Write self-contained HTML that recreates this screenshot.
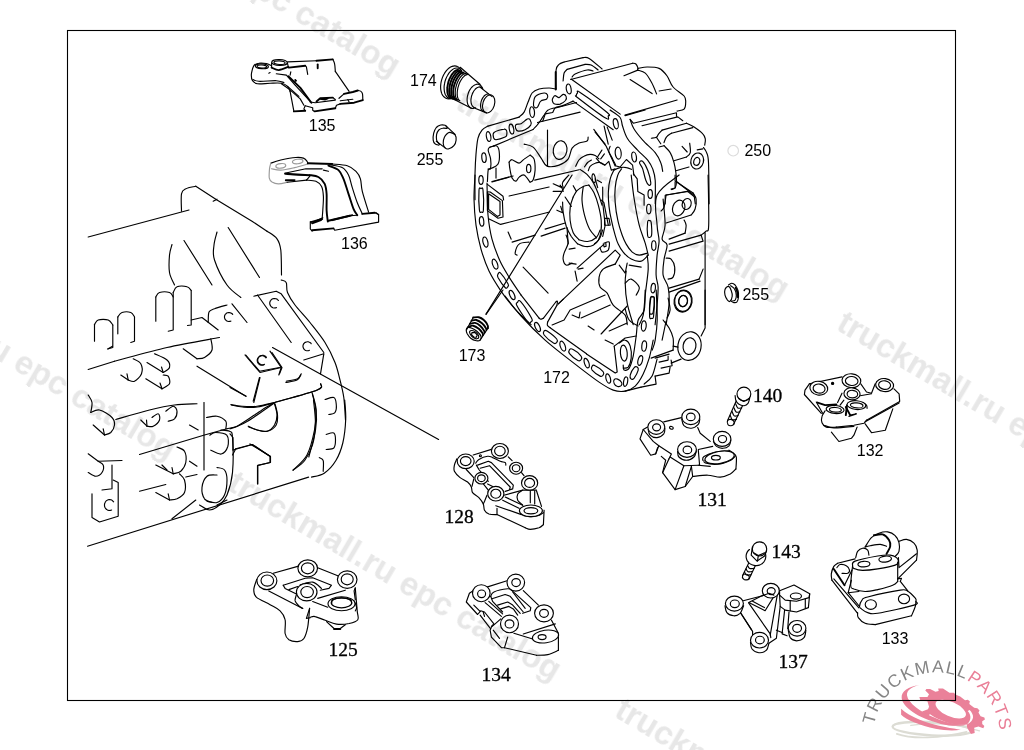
<!DOCTYPE html>
<html><head><meta charset="utf-8"><title>EPC catalog diagram</title>
<style>
html,body{margin:0;padding:0;background:#fff;}
body{width:1024px;height:750px;overflow:hidden;font-family:"Liberation Sans",sans-serif;}
svg{display:block;position:absolute;left:0;top:0;will-change:transform;filter:brightness(1);}
.k path,.k ellipse,.k circle,.k polyline,.k line,.k rect{fill:none;stroke:#000;stroke-width:1.15;vector-effect:non-scaling-stroke;stroke-linecap:round;stroke-linejoin:round;}
.k .w{fill:#fff;}
.k .b{stroke-width:1.9;}
.k .f{fill:#000;}
.k .g{stroke:#9a9a9a;}
.wm{font-family:"Liberation Sans",sans-serif;font-weight:bold;font-size:33px;fill:#e7e7e7;}
.ls{font-family:"Liberation Sans",sans-serif;font-size:16px;fill:#000;}
.lf{font-family:"Liberation Serif",serif;font-size:19.5px;fill:#000;stroke:#000;stroke-width:0.3px;}
</style></head><body>
<svg width="1024" height="750" viewBox="0 0 1024 750">
<!-- engine -->
<g class="k">
<path d="M88.2,237 L189,210"/>
<path d="M181.5,211.2 C181.5,208.3 180.8,197.5 181.5,193.8 C182.2,190 183.4,190 185.8,188.8 C188.1,187.5 194.1,186.7 195.8,186.2"/>
<path d="M195.8,186.2 L217,200 L252,221.2 L267,231.2"/>
<path d="M267,231.2 C268.7,232.5 274.7,235.6 277,238.8 C279.3,241.9 280,244 280.8,250 C281.5,256 281.4,270.8 281.5,275"/>
<path d="M213.2,201.2 L217,199.2"/>
<path d="M172,244.5 C171.6,246.2 169.9,250.3 169.5,255 C169.1,259.7 168.7,267.5 169.5,272.5 C170.3,277.5 173.7,282.9 174.5,285"/>
<path d="M184,240.5 L212,285"/>
<path d="M217,232 C216.5,234.2 214.4,240.3 214,245 C213.6,249.7 212.3,253.3 214.5,260 C216.7,266.7 222.6,278.8 227,285 C231.4,291.2 238.5,295.4 240.8,297.5"/>
<path d="M228.2,227.5 L259.5,277.5"/>
<path d="M94.5,341.2 L94.5,324.5"/>
<path d="M94.5,324.5 C95.1,323.8 96,320.8 98.2,320 C100.5,319.2 105.8,319.2 108.2,320 C110.7,320.8 112,324.2 112.8,325"/>
<path d="M112.8,325 L112.8,347.5 L107.5,349"/>
<path d="M117.8,333.8 L117.8,317"/>
<path d="M117.8,317 C118.5,316.2 119.8,313.2 122,312.5 C124.2,311.8 128.7,311.8 130.8,312.5 C132.8,313.2 133.9,316.2 134.5,317"/>
<path d="M134.5,317 L134.5,341.2 L130.8,342.5"/>
<path d="M155.8,321.2 L155.8,297"/>
<path d="M155.8,297 C156.4,296.2 157.2,293.2 159.5,292.5 C161.8,291.8 167.2,291.8 169.5,292.5 C171.8,293.2 172.6,296.2 173.2,297"/>
<path d="M173.2,292.5 L173.2,330 L168.2,331.2"/>
<path d="M173.2,292.5 C173.9,291.5 174.7,287.7 177,286.8 C179.3,285.8 184.6,286.1 187,286.8 C189.4,287.4 190.5,289.9 191.2,290.5"/>
<path d="M191.2,290.5 L191.2,325 L187.5,325.5"/>
<path d="M191.2,320 L202,317.5 L218.2,330"/>
<path d="M208.2,322.5 C208.4,320.8 208,314.3 209,312 C210,309.7 211.5,309.9 214.5,308.8 C217.5,307.6 224.9,305.6 227,305"/>
<path d="M230.9,321.1 C230.7,321.1 230.1,321.4 229.8,321.4 C229.4,321.5 229,321.5 228.6,321.5 C228.2,321.4 227.8,321.3 227.4,321.2 C227,321.1 226.7,320.9 226.3,320.6 C226,320.4 225.7,320.1 225.5,319.8 C225.2,319.5 225,319.1 224.9,318.8 C224.7,318.4 224.6,318 224.5,317.6 C224.5,317.2 224.5,316.8 224.5,316.4 C224.6,316 224.7,315.6 224.8,315.3 C225,314.9 225.2,314.5 225.5,314.2 C225.7,313.9 226,313.6 226.3,313.4 C226.6,313.2 227,313 227.4,312.8 C227.7,312.7 228.1,312.6 228.5,312.5 C228.9,312.5 229.3,312.5 229.7,312.6 C230.1,312.6 230.5,312.7 230.9,312.9 C231.2,313.1 231.6,313.3 231.9,313.5 C232.2,313.8 232.6,314.3 232.7,314.4"/>
<path d="M232,303.8 L247,322.5"/>
<path d="M114.5,361.2 C123.2,359 149.5,351.5 167,347.5 C184.5,343.5 210.8,339.2 219.5,337.5"/>
<path d="M210.8,338.8 C211,340.6 213,346.9 212,350 C211,353.1 207,356 204.5,357.5 C202,359 198.2,358.5 197,358.8"/>
<path d="M183.2,348.8 L197,358.8"/>
<path d="M88.2,369.5 L114.5,361.2"/>
<path d="M108.2,348.8 L112.5,346.2"/>
<path d="M133.2,358.8 C134.5,359.6 139.4,361.2 140.8,363.8 C142.1,366.2 142.5,370.8 141.5,373.8 C140.5,376.7 136.7,380.2 134.5,381.2 C132.3,382.3 129.3,380.2 128.2,380"/>
<path d="M120.8,375 L128.2,380"/>
<path d="M128.2,380 L127,373.8"/>
<path d="M154.5,353.8 C156.6,354.8 164.5,357.7 167,360 C169.5,362.3 170.1,365.4 169.5,367.5 C168.9,369.6 164.3,371.7 163.2,372.5"/>
<path d="M147,362.5 L163.2,372.5"/>
<path d="M163.2,372.5 L161.5,367"/>
<path d="M163.2,375 C164.1,375.2 167.2,374.8 168.2,376.2 C169.3,377.7 170.5,381.7 169.5,383.8 C168.5,385.8 163.2,387.9 162,388.8"/>
<path d="M145.8,378.8 L162,388.8"/>
<path d="M162,388.8 L160,383"/>
<path d="M197,366.2 L245.8,396.2"/>
<path d="M245.8,355 L259.5,371.2 L279.5,367.5"/>
<path d="M272,352.5 L282,367.5 L279.5,373.8"/>
<path d="M264,364.8 C263.8,364.9 263.2,365.1 262.8,365.2 C262.4,365.3 262,365.3 261.5,365.2 C261.1,365.2 260.7,365.1 260.3,364.9 C259.9,364.8 259.5,364.6 259.2,364.3 C258.9,364.1 258.5,363.8 258.3,363.5 C258,363.1 257.8,362.8 257.6,362.4 C257.5,362 257.4,361.6 257.3,361.2 C257.2,360.7 257.2,360.3 257.3,359.9 C257.3,359.5 257.5,359.1 257.6,358.7 C257.8,358.3 258,357.9 258.3,357.6 C258.5,357.3 258.8,356.9 259.2,356.7 C259.5,356.4 259.9,356.2 260.3,356.1 C260.7,355.9 261.1,355.8 261.5,355.8 C261.9,355.7 262.3,355.7 262.8,355.8 C263.2,355.9 263.6,356 264,356.2 C264.3,356.3 264.7,356.6 265,356.8 C265.4,357.1 265.7,357.6 265.9,357.8"/>
<path d="M285.8,382.5 C287.6,382.1 294.5,381.2 297,380 C299.5,378.8 300.1,375.8 300.8,375"/>
<path d="M259.5,377.5 L253.2,401.2"/>
<path d="M115.8,419.5 C121.4,417.9 139.7,412.4 149.5,410 C159.3,407.6 166.6,406 174.5,405 C182.4,404 193.2,404 197,403.8"/>
<path d="M230.8,404.5 C232.6,404.8 237.6,406 242,406.2 C246.4,406.5 251.6,406.9 257,406.2 C262.4,405.6 271.6,403.1 274.5,402.5"/>
<path d="M274.5,402.5 C281.6,400.4 309.3,393.1 317,390 C324.7,386.9 320.1,384.8 320.8,383.8"/>
<path d="M274.5,402.5 C272.4,403.8 266.6,407.1 262,410 C257.4,412.9 251.2,417.3 247,420 C242.8,422.7 240.3,424.8 237,426.2 C233.7,427.7 228.7,428.3 227,428.8"/>
<path d="M227,428.8 L204.5,435 L139.5,454.5"/>
<path d="M274.5,403.8 C274.9,405.6 277,411.5 277,415 C277,418.5 276.2,422.3 274.5,425 C272.8,427.7 269.9,430.4 267,431.2 C264.1,432.1 260.1,430.8 257,430 C253.9,429.2 249.7,426.9 248.2,426.2"/>
<path d="M312,392.5 C312.6,395.4 315.3,403.8 315.8,410 C316.2,416.2 316,422.5 314.5,430 C313,437.5 310.5,448.3 307,455 C303.5,461.7 295.5,467.5 293.2,470"/>
<path d="M204,402.5 L204,470"/>
<path d="M206.5,417.5 C208.2,417.3 213.8,415.6 217,416.2 C220.2,416.9 224.3,419.2 225.8,421.2 C227.2,423.3 225.8,427.5 225.8,428.8"/>
<path d="M189.5,425 L198.2,430"/>
<path d="M88.2,395 C88.9,396.2 91.6,399.6 92,402.5 C92.4,405.4 91,410.8 90.8,412.5"/>
<path d="M90.8,412.5 C92.2,412.1 96,409.2 99.5,410 C103,410.8 109.5,415 112,417.5 C114.5,420 114.7,422.5 114.5,425 C114.3,427.5 112.4,430.8 110.8,432.5 C109.1,434.2 105.5,434.6 104.5,435"/>
<path d="M93.2,425 L104.5,435"/>
<path d="M104.5,435 L103.2,428.8"/>
<path d="M152,417.5 C153,416.9 157,413.3 158.2,413.8 C159.5,414.2 160.3,417.9 159.5,420 C158.7,422.1 155.3,425.2 153.2,426.2 C151.2,427.3 148,426.2 147,426.2"/>
<path d="M140.8,420 L147,426.2"/>
<path d="M147,426.2 L146.5,420"/>
<path d="M165.8,411.2 C167,410.4 171.4,406.2 173.2,406.2 C175.1,406.2 176.8,409.2 177,411.2 C177.2,413.3 176,417.1 174.5,418.8 C173,420.4 169.3,420.8 168.2,421.2"/>
<path d="M88.2,453.8 L98.2,461.2 L122,460.5"/>
<path d="M98.2,461.2 C99.1,461.9 102.6,463.1 103.2,465 C103.9,466.9 103.2,470.6 102,472.5 C100.8,474.4 98,476.2 95.8,476.2 C93.5,476.2 89.5,473.1 88.2,472.5"/>
<path d="M112,465 L112,488.8 L102,490"/>
<path d="M113.2,480 L118.2,482.5 L118.2,516.2 L99.5,522 L92,517.5 L92,493.8"/>
<path d="M111.6,510 C111.4,510.1 110.8,510.3 110.3,510.4 C109.9,510.5 109.5,510.5 109,510.5 C108.6,510.4 108.1,510.3 107.7,510.1 C107.3,510 106.9,509.7 106.5,509.4 C106.2,509.2 105.9,508.8 105.6,508.4 C105.3,508 105.1,507.6 104.9,507.2 C104.7,506.7 104.6,506.2 104.5,505.8 C104.5,505.3 104.5,504.8 104.5,504.3 C104.6,503.8 104.7,503.3 104.9,502.9 C105.1,502.4 105.3,502 105.6,501.6 C105.8,501.2 106.2,500.9 106.5,500.6 C106.9,500.3 107.3,500.1 107.7,499.9 C108.1,499.7 108.5,499.6 109,499.5 C109.4,499.5 109.9,499.5 110.3,499.6 C110.7,499.6 111.2,499.8 111.6,500 C112,500.2 112.4,500.5 112.7,500.8 C113,501.1 113.4,501.7 113.6,501.8"/>
<path d="M177,447 C178.2,447.7 183,448.7 184.5,451.2 C186,453.8 186.4,459.2 185.8,462.5 C185.1,465.8 182.8,469.4 180.8,471.2 C178.7,473.1 174.5,473.3 173.2,473.8"/>
<path d="M155.8,465 L173.2,473.8"/>
<path d="M173.2,473.8 L172,467.5"/>
<path d="M162,465 L167,470"/>
<path d="M189.5,461.2 L197,466.2"/>
<path d="M139.5,491.2 L165.8,484.5"/>
<path d="M185.8,477 L197,474.5"/>
<path d="M179.5,473.8 C180.3,474.8 183.7,476.9 184.5,480 C185.3,483.1 185.8,489.4 184.5,492.5 C183.2,495.6 179.5,497.5 177,498.8 C174.5,500 170.8,499.8 169.5,500"/>
<path d="M155.8,492.5 L169.5,500"/>
<path d="M169.5,500 L168.2,493.8"/>
<path d="M209.8,435.2 C210.7,434.8 212.7,432.5 215.5,432.5 C218.3,432.5 224.7,432.9 226.8,435.2 C228.8,437.6 228.7,443.4 227.8,446.5 C226.8,449.6 224.1,453.4 221.2,454 C218.4,454.6 212.5,450.9 210.8,450.2"/>
<path d="M220.8,430 C222.2,430.2 227.5,430 229.5,431.2 C231.5,432.5 232,430.6 232.5,437.5 C233,444.4 233.4,462.9 232.5,472.5 C231.6,482.1 229.2,489.6 227,495 C224.8,500.4 222.4,502.5 219.5,505 C216.6,507.5 212.8,510 209.5,510 C206.2,510 201.2,505.8 199.5,505"/>
<path d="M217,467.5 C218.2,467.9 222.8,467.9 224.5,470 C226.2,472.1 227,475.8 227,480 C227,484.2 226.2,491.2 224.5,495 C222.8,498.8 219.9,501.5 217,502.5 C214.1,503.5 208.7,501.5 207,501.2"/>
<path d="M217,475 C215.3,475.2 209.5,474.2 207,476.2 C204.5,478.3 202.4,483.8 202,487.5 C201.6,491.2 202.8,496.2 204.5,498.8 C206.2,501.2 210.8,501.9 212,502.5"/>
<path d="M232.5,455 L235.8,448.8"/>
<path d="M235.8,448.8 L252,444.5 L270,456.2 L270,462.5 L257.5,465.5 L257.5,483.8"/>
<path d="M172,518.8 L195.8,500"/>
<path d="M217,505 L227,500"/>
<path d="M87.5,546.2 L308.6,477.1"/>
<path d="M272.5,347.5 L438.6,439.5"/>
<path d="M253.8,296.2 L276.2,291.2 L281.2,293.8 L323.8,352.5"/>
<path d="M257.5,295 L291.2,342.5"/>
<path d="M281.2,280 C282.1,280.4 285.2,280.4 286.2,282.5 C287.3,284.6 286,288.8 287.5,292.5 C289,296.2 291.2,300 295,305 C298.8,310 305,316.2 310,322.5 C315,328.8 320.8,335.8 325,342.5 C329.2,349.2 332.5,356.2 335,362.5 C337.5,368.8 338.5,374.2 340,380 C341.5,385.8 342.8,390.8 343.8,397.5 C344.7,404.2 345.2,416.2 345.5,420"/>
<path d="M276.5,307.6 C276.3,307.6 275.7,307.9 275.3,307.9 C274.9,308 274.5,308 274,308 C273.6,307.9 273.2,307.8 272.8,307.7 C272.4,307.5 272,307.3 271.7,307.1 C271.4,306.8 271,306.5 270.8,306.2 C270.5,305.9 270.3,305.5 270.1,305.1 C270,304.7 269.9,304.3 269.8,303.9 C269.7,303.5 269.7,303.1 269.8,302.6 C269.8,302.2 270,301.8 270.1,301.4 C270.3,301 270.5,300.7 270.8,300.3 C271,300 271.3,299.7 271.7,299.4 C272,299.2 272.4,299 272.8,298.8 C273.2,298.7 273.6,298.6 274,298.5 C274.4,298.5 274.8,298.5 275.3,298.6 C275.7,298.6 276.1,298.8 276.5,298.9 C276.8,299.1 277.2,299.3 277.5,299.6 C277.9,299.9 278.2,300.4 278.4,300.5"/>
<path d="M309.4,350.3 C309.2,350.4 308.6,350.6 308.3,350.7 C307.9,350.8 307.5,350.8 307.1,350.7 C306.7,350.7 306.3,350.6 305.9,350.5 C305.5,350.3 305.2,350.1 304.8,349.9 C304.5,349.6 304.2,349.4 304,349.1 C303.7,348.7 303.5,348.4 303.4,348 C303.2,347.7 303.1,347.3 303,346.9 C303,346.5 303,346.1 303,345.7 C303.1,345.3 303.2,344.9 303.3,344.5 C303.5,344.2 303.7,343.8 304,343.5 C304.2,343.2 304.5,342.9 304.8,342.6 C305.1,342.4 305.5,342.2 305.9,342.1 C306.2,341.9 306.6,341.8 307,341.8 C307.4,341.7 307.8,341.7 308.2,341.8 C308.6,341.9 309,342 309.4,342.2 C309.7,342.3 310.1,342.5 310.4,342.8 C310.7,343 311.1,343.5 311.2,343.7"/>
<path d="M264.5,364.3 C264.3,364.4 263.7,364.6 263.3,364.7 C262.9,364.8 262.5,364.8 262,364.7 C261.6,364.7 261.2,364.6 260.8,364.4 C260.4,364.3 260,364.1 259.7,363.8 C259.4,363.6 259,363.3 258.8,363 C258.5,362.6 258.3,362.3 258.1,361.9 C258,361.5 257.9,361.1 257.8,360.7 C257.7,360.2 257.7,359.8 257.8,359.4 C257.8,359 258,358.6 258.1,358.2 C258.3,357.8 258.5,357.4 258.8,357.1 C259,356.8 259.3,356.4 259.7,356.2 C260,355.9 260.4,355.7 260.8,355.6 C261.2,355.4 261.6,355.3 262,355.3 C262.4,355.2 262.8,355.2 263.3,355.3 C263.7,355.4 264.1,355.5 264.5,355.7 C264.8,355.8 265.2,356.1 265.5,356.3 C265.9,356.6 266.2,357.1 266.4,357.3"/>
<path d="M323.8,353.8 L303.8,360"/>
<path d="M323.8,353.8 L320.5,373.8"/>
<path d="M270,351.2 L281.2,367.5 L260,372.5 L245,355"/>
<path d="M281.2,367.5 L278.8,375"/>
<path d="M286.2,381.2 C288.1,380.8 295,380 297.5,378.8 C300,377.5 300.6,374.6 301.2,373.8"/>
<path d="M260,377.5 L253.8,402.5"/>
<path d="M230,387.5 L246.2,396.2"/>
<path d="M231.2,405 C233.1,405.3 238.1,406.7 242.5,407 C246.9,407.3 252.1,407.8 257.5,407 C262.9,406.2 272.1,403.2 275,402.5"/>
<path d="M275,402.5 C282.1,400.4 309.9,393.1 317.5,390 C325.1,386.9 320,384.8 320.5,383.8"/>
<path d="M275,402.5 C272.9,404 267.1,408.1 262.5,411.2 C257.9,414.4 251.7,418.8 247.5,421.2 C243.3,423.8 240.4,425 237.5,426.2 C234.6,427.5 231.2,428.3 230,428.8"/>
<path d="M275,403.8 C275.4,405.6 277.3,411.5 277.5,415 C277.7,418.5 277.9,422.3 276.2,425 C274.6,427.7 270.6,430.4 267.5,431.2 C264.4,432.1 260.6,430.7 257.5,430 C254.4,429.3 250.2,427.5 248.8,427"/>
<path d="M312.5,393.8 C313.1,396.5 315.8,404 316.2,410 C316.8,416 316.8,422.2 315.5,430 C314.2,437.8 309.9,452.5 308.8,457"/>
<path d="M325,399.5 C326.5,399.2 331.9,396.8 333.8,397.5 C335.6,398.2 336,401.2 336.2,403.8 C336.5,406.2 336.2,410.7 335,412.5 C333.8,414.3 329.8,414.2 328.8,414.5"/>
<path d="M326.2,434.5 C327.5,434.2 332.2,432.1 333.8,433 C335.3,433.9 335.5,437.5 335.5,440 C335.5,442.5 335.3,446.4 333.8,448 C332.2,449.6 327.5,449.2 326.2,449.5"/>
<path d="M230,433.8 L233,437.5 L233,450"/>
<path d="M233,450 L252.5,444.5 L270,456.2"/>
<path d="M344.7,400 C344.9,403.3 346,412.4 345.7,419.5 C345.4,426.7 344.4,436.1 342.8,443 C341.1,449.8 339,455.5 335.9,460.5 C332.8,465.6 328.3,470.5 324.2,473.2 C320.1,476 313.6,476.5 311.5,477.1"/>
<path d="M313.5,400 C313.8,403.9 315.6,415.9 315.4,423.4 C315.3,430.9 314.3,438.7 312.5,444.9 C310.7,451.1 307.9,456.3 304.7,460.5 C301.4,464.8 294.9,468.7 293,470.3"/>
<path d="M319.3,457.6 C320,458.1 322.6,458.3 323.2,460.5 C323.9,462.8 323.2,469.5 323.2,471.3"/>
<path d="M250,443.9 L270.5,456.6 L270.5,462.5 L257.8,465.4 L257.8,484"/>
</g>
<!-- p135 -->
<g class="k">
<path d="M252.5,68.8 C252.8,68.2 253.4,66 254.4,65 C255.4,64.1 256.8,63.4 258.8,63.2 C260.8,62.9 264.3,63.2 266.3,63.5 C268.3,63.9 270,65 270.7,65.3"/>
<path d="M252.5,68.8 C252.3,69.9 251.3,73.1 251.3,75.1 C251.3,77.1 251.5,79.3 252.5,80.7 C253.6,82.2 254.6,83.4 257.5,83.8 C260.5,84.3 266.1,83.3 270.1,83.2 C274,83.1 278.4,82.7 281.4,83.2 C284.3,83.7 286.2,85 287.6,86.4 C289.1,87.7 289.7,90.5 290.1,91.4"/>
<path d="M253.1,79.5 C254.1,79.8 254.9,81.1 258.8,81.3 C262.7,81.6 272.2,80.5 276.3,80.7 C280.5,80.9 282.6,82.3 283.9,82.6"/>
<ellipse cx="261.9" cy="66.3" rx="6.5" ry="2.4" transform="rotate(3 261.9 66.3)"/>
<ellipse cx="261.9" cy="66.5" rx="4.8" ry="1.5" transform="rotate(3 261.9 66.5)"/>
<ellipse cx="279.5" cy="62.5" rx="7.8" ry="3" transform="rotate(2 279.5 62.5)"/>
<ellipse cx="279.5" cy="62.7" rx="5.6" ry="1.8" transform="rotate(2 279.5 62.7)"/>
<path d="M271.6,62.8 L271.6,67.6"/>
<path d="M287.4,62.8 L288.3,66.9"/>
<path class="b" d="M271.6,67.6 C272.8,68 276.1,70.2 278.8,70.1 C281.6,70 286.7,67.4 288.3,66.9"/>
<path d="M287.6,61.9 L316.5,60.7"/>
<path class="b" d="M316.5,60.7 L332.8,59.4"/>
<path d="M332.8,59.4 C333.1,60.1 334.2,61.8 334.6,63.8 C335.1,65.8 335.2,70.1 335.3,71.3"/>
<path d="M335.3,71.3 L349.1,91.4"/>
<path class="b" d="M344,93.9 L352.8,92 L357.8,90.5"/>
<path d="M357.8,90.5 C358.4,90.6 360.2,90.8 361,91.4 C361.7,91.9 362.2,92.4 362.5,93.9 C362.8,95.3 362.8,99.1 362.8,100.1"/>
<path class="b" d="M362.8,100.1 L354.1,102.7 L340.3,103.9"/>
<path d="M340.3,103.9 L336.5,105.2 L335.3,108.3"/>
<path class="b" d="M335.3,108.3 L314.6,111.4"/>
<path d="M314.6,111.4 L312.7,110.2 L312.7,107.7 L305.2,105.8"/>
<path d="M339,98.3 L344,93.9"/>
<path d="M340.3,100.8 L352.8,99.3"/>
<path d="M347.8,99.5 L349.1,102"/>
<path d="M305.2,105.8 L303.9,108.9 L305.2,110.8"/>
<path class="b" d="M305.2,110.8 L293.9,111.4"/>
<path d="M293.9,111.4 L290.1,91.4"/>
<path d="M276.3,73.8 L286.4,75.1 L295.1,85.1 L310.2,101.4"/>
<path class="b" d="M288.3,76.3 L300.2,87.6 L311.4,102.7"/>
<path d="M281.4,83.8 L288.9,88.9 L300.2,98.9 L303.9,105.2"/>
<path d="M287.6,86.4 L298.9,96.4"/>
<path class="b" d="M288.9,67.6 L305.2,65.7"/>
<path d="M305.2,65.7 L306.4,66.9 L307.7,74.4"/>
<path d="M290.8,71.9 L290.1,75.1"/>
<path class="b" d="M317.7,64.4 L317.7,68.2"/>
<path d="M295.1,79.5 L296.4,80.7 L295.8,81.3 L294.9,80.1"/>
<path d="M268.8,73.2 L270.1,72.6"/>
<path class="b" d="M316.5,101.4 L320.2,98.3 L332.8,97.6"/>
<path d="M332.8,97.6 L335.3,99.5"/>
<path class="b" d="M320.2,98.9 L325.2,99.5 L327.7,98.3"/>
<path d="M310.2,102 L315.2,102.7 L335.3,100.1"/>
</g>
<!-- p136 -->
<g class="k">
<path d="M270.8,163.2 C272.4,162.6 276.6,161 280.8,160 C285,159.1 292.1,157.8 295.8,157.5 C299.6,157.2 301.5,157.5 303.4,158.1 C305.3,158.8 306.4,160.3 307.1,161.3 C307.9,162.2 307.7,163.4 307.8,163.8"/>
<path class="g" d="M270.8,163.2 C270.6,164.1 269.8,166.3 269.5,168.8 C269.3,171.3 268.9,176 269.3,178.2 C269.7,180.4 270.5,181 272,182 C273.5,182.9 275.8,183.8 278.3,183.8 C280.8,183.9 285.6,182.6 287.1,182.3"/>
<path d="M287.1,182.3 L306.5,180.1"/>
<path class="b" d="M285.8,180.3 L294.6,180.1"/>
<path class="g" d="M271.4,168.8 C273,169 276.9,170.3 280.8,170.1 C284.7,169.9 290.1,168.6 294.6,167.6 C299.1,166.5 305.6,164.6 307.8,164"/>
<ellipse class="g" cx="280.8" cy="165.9" rx="5" ry="2.3" transform="rotate(-5 280.8 165.9)"/>
<ellipse class="g" cx="297.7" cy="161.5" rx="5.3" ry="2.3" transform="rotate(-5 297.7 161.5)"/>
<path d="M284.6,173.2 L305.9,168.8 L322.2,168.8"/>
<path class="b" d="M285.2,173.8 L309.6,175.1"/>
<path d="M287.1,174.4 L309.6,175.7"/>
<path class="b" d="M309.6,175.1 C311.1,175.4 315.9,175.5 318.4,177 C320.9,178.4 323.3,181 324.7,183.8 C326,186.7 326.3,189.5 326.6,193.9 C326.9,198.3 326.4,205.6 326.6,210.2 C326.8,214.8 327.6,219.6 327.8,221.5"/>
<path d="M306.5,180.1 C308.1,180.3 313.4,180.3 315.9,181.3 C318.4,182.4 320.3,183.8 321.6,186.4 C322.8,188.9 323.2,192.4 323.4,196.4 C323.6,200.4 323,206.6 322.8,210.2 C322.6,213.7 322.3,216.4 322.2,217.7"/>
<path d="M306.5,180.1 L310.3,175.7"/>
<path class="b" d="M307.8,163.2 L332.2,164"/>
<path d="M332.2,164 C334.7,164.3 343.3,164.5 347.3,165.7 C351.2,166.9 353.8,169.1 356,171.3 C358.2,173.5 359.4,175.5 360.4,178.8 C361.5,182.2 360.9,185.8 362.3,191.4 C363.7,196.9 367.5,208.6 368.6,212.1"/>
<path d="M329.7,164.8 C331.8,165.3 339.1,165.8 342.2,167.6 C345.4,169.3 346.8,171.7 348.5,175.1 C350.2,178.4 350.8,183 352.3,187.6 C353.7,192.2 355.6,198.3 357.3,202.7 C359,207 361.5,212.1 362.3,213.9"/>
<path class="b" d="M328.4,165.7 C330.1,166.4 336,167.9 338.5,170.1 C341,172.3 341.8,174.9 343.5,178.8 C345.2,182.8 346.8,188.9 348.5,193.9 C350.2,198.9 352.1,205.4 353.5,208.9 C355,212.5 356.7,214.1 357.3,215.2"/>
<path d="M323.4,170.1 L328.4,171.3"/>
<path class="b" d="M310.9,222.1 L322.2,219"/>
<path class="b" d="M312.1,223.3 L320.9,220.2"/>
<path d="M310.3,221.5 L310.3,229 L312.1,231.2"/>
<path class="b" d="M312.1,230.2 L333.5,228.4"/>
<path d="M333.5,228.4 L334.7,230.2 L378.6,222.1 L378.6,214.6 L376.1,212.7"/>
<path class="b" d="M328.4,220.8 L349.8,215.8"/>
<path class="b" d="M332.2,220.2 L352.3,215.2"/>
<path d="M349.8,215.8 L357.3,215.2"/>
<path class="b" d="M362.3,213.9 L374.8,212.7"/>
<path d="M374.8,212.7 L378.6,214.6"/>
<path d="M322.8,217.7 L317.2,220.2"/>
</g>
<!-- p174 -->
<g class="k">
<path d="M454.2,96.7 C453.7,96.9 452.3,97.9 451.3,98.3 C450.4,98.6 449.4,98.8 448.5,98.8 C447.6,98.8 446.7,98.6 445.9,98.2 C445,97.8 444.3,97.2 443.6,96.5 C443,95.8 442.4,94.9 441.9,93.9 C441.5,92.9 441.1,91.7 440.9,90.4 C440.7,89.2 440.6,87.8 440.6,86.4 C440.7,85.1 440.8,83.6 441.1,82.2 C441.4,80.8 441.8,79.3 442.3,77.9 C442.8,76.6 443.4,75.2 444.1,74 C444.8,72.7 445.6,71.6 446.4,70.6 C447.3,69.6 448.2,68.7 449.1,68 C450,67.3 451,66.7 452,66.4 C452.9,66 453.9,65.9 454.8,65.9 C455.7,65.9 456.6,66.1 457.4,66.5 C458.2,66.8 459,67.4 459.7,68.1 C460.3,68.9 461.1,70.4 461.3,70.8"/>
<path d="M454.2,97.7 C453.8,97.9 452.4,98.5 451.6,98.6 C450.7,98.7 449.8,98.6 449.1,98.4 C448.3,98.1 447.6,97.6 447,97 C446.3,96.4 445.8,95.6 445.3,94.6 C444.9,93.7 444.6,92.6 444.4,91.4 C444.2,90.2 444.1,88.9 444.1,87.6 C444.1,86.3 444.3,84.8 444.6,83.4 C444.8,82.1 445.2,80.6 445.7,79.3 C446.2,78 446.8,76.6 447.5,75.5 C448.2,74.3 448.9,73.1 449.7,72.2 C450.5,71.2 451.4,70.4 452.3,69.8 C453.1,69.1 454.1,68.6 454.9,68.3 C455.8,68 456.7,67.9 457.5,68 C458.4,68.1 459.2,68.4 459.9,68.9 C460.6,69.3 461.4,70.4 461.7,70.8"/>
<path class="b" d="M450.6,98.2 C450.4,98 449.4,97.4 449,96.7 C448.5,96.1 448.1,95.2 447.8,94.3 C447.5,93.3 447.3,92.2 447.3,91 C447.2,89.8 447.2,88.5 447.4,87.2 C447.5,85.9 447.8,84.5 448.1,83.1 C448.4,81.8 448.9,80.4 449.4,79.2 C450,77.9 450.6,76.7 451.2,75.6 C451.9,74.5 452.6,73.5 453.4,72.7 C454.1,71.8 454.9,71.1 455.7,70.6 C456.5,70.1 457.6,69.8 458,69.6"/>
<path class="b" d="M452.5,98.7 C452.2,98.5 451.3,97.9 450.9,97.3 C450.4,96.6 450,95.8 449.8,94.9 C449.5,93.9 449.3,92.8 449.2,91.7 C449.2,90.5 449.2,89.2 449.4,87.9 C449.5,86.6 449.8,85.3 450.1,84 C450.4,82.6 450.9,81.3 451.4,80.1 C451.9,78.8 452.5,77.6 453.2,76.5 C453.8,75.5 454.5,74.5 455.3,73.6 C456,72.8 456.8,72.1 457.5,71.6 C458.3,71.1 459.4,70.8 459.8,70.6"/>
<path class="b" d="M454.3,99.3 C454.1,99 453.2,98.5 452.8,97.8 C452.3,97.2 452,96.4 451.7,95.5 C451.5,94.5 451.3,93.5 451.2,92.3 C451.2,91.2 451.2,89.9 451.4,88.7 C451.5,87.4 451.8,86 452.1,84.8 C452.4,83.5 452.9,82.1 453.4,80.9 C453.9,79.7 454.5,78.5 455.1,77.4 C455.7,76.4 456.4,75.4 457.1,74.6 C457.9,73.8 458.6,73.1 459.3,72.6 C460.1,72.1 461.2,71.8 461.5,71.6"/>
<path class="b" d="M456.2,99.8 C455.9,99.6 455.1,99 454.7,98.4 C454.3,97.8 453.9,97 453.7,96.1 C453.4,95.2 453.3,94.1 453.2,93 C453.2,91.9 453.2,90.6 453.4,89.4 C453.5,88.2 453.8,86.8 454.1,85.6 C454.4,84.3 454.9,83 455.4,81.8 C455.8,80.6 456.4,79.4 457,78.4 C457.7,77.3 458.3,76.4 459,75.6 C459.7,74.8 460.5,74.1 461.2,73.6 C461.9,73.1 462.9,72.8 463.3,72.6"/>
<path d="M458,100.3 C457.8,100.1 457.1,99.6 456.7,99.1 C456.3,98.5 456,97.8 455.7,97 C455.5,96.2 455.3,95.3 455.3,94.3 C455.2,93.3 455.2,92.2 455.3,91 C455.4,89.9 455.6,88.7 455.8,87.5 C456.1,86.4 456.4,85.2 456.8,84 C457.2,82.9 457.7,81.7 458.2,80.7 C458.7,79.7 459.3,78.7 459.9,77.8 C460.5,77 461.2,76.2 461.8,75.6 C462.4,75 463.1,74.5 463.8,74.1 C464.4,73.8 465.3,73.6 465.6,73.5"/>
<path d="M459.9,100.8 C459.7,100.6 459,100.2 458.6,99.6 C458.2,99.1 457.9,98.4 457.7,97.6 C457.5,96.8 457.3,95.9 457.2,94.9 C457.2,93.9 457.2,92.9 457.3,91.8 C457.4,90.7 457.6,89.5 457.8,88.3 C458.1,87.2 458.4,86 458.8,84.9 C459.2,83.8 459.7,82.6 460.2,81.6 C460.7,80.6 461.2,79.6 461.8,78.8 C462.4,77.9 463,77.2 463.7,76.6 C464.3,76 464.9,75.5 465.5,75.1 C466.2,74.8 467.1,74.6 467.4,74.5"/>
<path d="M460.2,67.3 L467.7,73.8"/>
<path d="M457.7,70.7 L466.4,73.8"/>
<path d="M467.7,73.8 L480.2,84.5"/>
<path d="M453.3,99.1 L471.4,108.3"/>
<path d="M473.5,108.5 C473.2,108.5 472.1,108.5 471.5,108.3 C470.8,108.1 470.2,107.8 469.7,107.3 C469.1,106.8 468.7,106.1 468.3,105.4 C467.9,104.6 467.6,103.8 467.4,102.8 C467.2,101.9 467.1,100.8 467.1,99.8 C467.1,98.7 467.2,97.6 467.4,96.5 C467.6,95.4 468,94.3 468.3,93.2 C468.7,92.1 469.2,91.1 469.7,90.1 C470.3,89.2 470.9,88.3 471.5,87.5 C472.2,86.8 472.9,86.1 473.6,85.6 C474.3,85.1 475.1,84.7 475.8,84.5 C476.5,84.2 477.3,84.1 478,84.2 C478.7,84.3 479.3,84.5 479.9,84.9 C480.5,85.2 481.1,85.7 481.5,86.4 C482,87 482.5,88.2 482.6,88.6"/>
<path d="M475.7,107.8 C475.4,107.8 474.5,107.7 474.1,107.5 C473.6,107.3 473.1,106.9 472.7,106.4 C472.3,106 472,105.4 471.7,104.8 C471.4,104.1 471.2,103.4 471.1,102.6 C471,101.8 470.9,100.9 470.9,100.1 C471,99.2 471.1,98.3 471.3,97.4 C471.4,96.5 471.7,95.5 472,94.7 C472.3,93.8 472.7,92.9 473.2,92.1 C473.6,91.3 474.1,90.6 474.6,90 C475.1,89.3 475.7,88.7 476.3,88.3 C476.8,87.8 477.5,87.5 478,87.3 C478.6,87 479.2,86.9 479.8,86.9 C480.3,86.9 480.9,87 481.4,87.3 C481.9,87.5 482.5,88.1 482.7,88.3"/>
<path d="M480.2,87.3 L492.1,96.6"/>
<path d="M473.7,107.7 L486.5,112.9"/>
<ellipse cx="488.7" cy="103.9" rx="9.3" ry="5.8" transform="rotate(-73 488.7 103.9)"/>
<path d="M482.9,111.3 C482.7,111.2 482.1,110.6 481.7,110.2 C481.4,109.7 481.1,109.1 480.9,108.4 C480.8,107.7 480.6,107 480.6,106.2 C480.5,105.5 480.6,104.6 480.7,103.8 C480.8,103 481,102.1 481.2,101.3 C481.5,100.5 481.8,99.6 482.2,98.9 C482.5,98.2 483,97.4 483.5,96.8 C483.9,96.2 484.4,95.7 485,95.2 C485.5,94.8 486.1,94.4 486.6,94.2 C487.2,94 488,93.9 488.2,93.9"/>
</g>
<!-- p255a -->
<g class="k">
<path d="M447.3,127.8 C446.9,127.4 446.2,125.8 445.1,125.3 C444,124.9 442.2,124.7 440.7,125 C439.3,125.4 437.5,126.2 436.3,127.5 C435.2,128.9 434.2,131.1 433.7,133.2 C433.2,135.3 433,138.3 433.2,140.1 C433.4,141.8 434.1,143 435.1,143.8 C436,144.7 438.2,145 438.8,145.2"/>
<path d="M447,128.5 C446.2,128.4 444,127.9 442.6,128.2 C441.2,128.4 439.8,129 438.8,130 C437.8,131.1 437,132.8 436.6,134.4 C436.3,136.1 436.2,138.4 436.6,140.1 C437.1,141.7 439,143.7 439.5,144.5"/>
<path d="M445.7,125.7 L455.1,134.4"/>
<path d="M436.3,141.3 L445.1,147.9"/>
<path d="M450.1,132.4 C451.4,132.7 454.1,133.7 455.1,134.9 C456.1,136.2 456.3,138.3 456.1,140.1 C455.9,141.9 455.1,144.3 453.9,145.7 C452.7,147.2 450.3,148.5 448.9,148.8 C447.4,149.2 446,148.8 445.1,147.9 C444.2,147 443.3,145 443.2,143.2 C443.1,141.4 443.7,138.6 444.5,136.9 C445.2,135.3 446.7,134.1 447.6,133.3 C448.5,132.6 448.9,132.2 450.1,132.4Z"/>
</g>
<!-- housing -->
<g class="k">
<path d="M556.1,89 C556.1,85.9 555.6,74.1 556.1,70 C556.6,65.9 557.8,65.7 559.1,64.4 C560.4,63.1 563.3,62.4 564.1,62"/>
<path d="M564.1,62 L583.1,57.6"/>
<path d="M583.1,57.6 C584.1,57.7 586,56.5 589.1,58.4 C592.3,60.3 600,67.3 602.1,69"/>
<path d="M563.1,81 C563.3,79.7 563.4,75 564.1,73 C564.8,71.1 566.6,70 567.1,69.4"/>
<path d="M567.1,69.4 L585.1,64.4"/>
<path d="M585.1,64.4 C586.1,64.5 589,64.1 591.1,65 C593.3,65.9 597,69.2 598.1,70"/>
<path d="M572.1,77 C572.6,76.5 572.6,75.2 575.1,74 C577.6,72.9 584.1,70.5 587.1,70 C590.1,69.5 592.1,70.9 593.1,71"/>
<path d="M556.1,89 C554.9,88.9 551.9,88 549.1,88 C546.3,88 541.9,88.2 539.1,89 C536.2,89.9 533.9,90.9 532.1,93 C530.2,95.2 529.4,98.9 528.1,102.1 C526.7,105.2 525.6,109.6 524.1,112.1 C522.6,114.6 519.9,116.2 519.1,117.1"/>
<path d="M519.1,117.1 L488,126.1"/>
<path d="M488,126.1 C487,126.7 483.7,128.1 482,130.1 C480.4,132.1 479,134.1 478,138.1 C477,142.1 476.5,148.1 476,154.1 C475.5,160.1 475.2,166.5 475,174.1 C474.9,181.7 475,195.5 475,199.7"/>
<path d="M573.1,101.1 C571.6,101.7 567.1,104 564.1,105.1 C561.1,106.2 557.8,106.8 555.1,107.7 C552.4,108.5 549.9,108.8 548.1,110.1 C546.3,111.3 545.4,113.2 544.1,115.1 C542.8,116.9 541.3,119.4 540.1,121.1 C538.9,122.7 538.2,123.7 537.1,125.1 C535.9,126.5 533.7,128.7 533.1,129.5"/>
<path d="M533.1,129.5 L506.3,140.7 L494,145.9"/>
<path d="M494,145.9 C493.3,146.2 490.4,146.7 489.4,147.5 C488.5,148.3 488,148.6 488.2,150.5 C488.4,152.4 490.2,155.9 490.6,158.9 C491,161.9 491,166.4 490.6,168.3 C490.2,170.2 488.8,167.9 488.2,170.1 C487.7,172.3 487.6,179.6 487.4,181.5"/>
<ellipse cx="484" cy="157.7" rx="2.2" ry="4.8" transform="rotate(-5 484 157.7)"/>
<ellipse cx="488.6" cy="136.5" rx="2.2" ry="5" transform="rotate(-10 488.6 136.5)"/>
<path d="M494,132.5 C495.8,131 501.9,129.3 504,129.1 C506.2,128.8 506.2,130.1 506.7,131.1 C507.1,132.1 506.9,134.1 506.7,135.1 C506.4,136.1 506.8,136.3 505.1,137.1 C503.3,137.9 497.9,139.6 496,139.7 C494.1,139.8 494,138.9 493.6,137.7 C493.3,136.5 492.3,133.9 494,132.5Z"/>
<ellipse cx="511.5" cy="129.1" rx="2.2" ry="5" transform="rotate(-10 511.5 129.1)"/>
<path d="M516.1,124.5 C517,123.7 519.2,124.6 521.1,123.7 C522.9,122.8 525.6,119.7 527.1,119.1 C528.6,118.4 529.5,118.7 530.1,119.7 C530.7,120.7 531.5,123.4 530.7,125.1 C529.8,126.7 527.2,128.7 525.1,129.7 C523,130.7 519.6,131.3 518.1,131.1 C516.5,130.9 516,129.6 515.7,128.5 C515.3,127.4 515.2,125.3 516.1,124.5Z"/>
<ellipse cx="532.1" cy="112.1" rx="2.4" ry="5.4" transform="rotate(-5 532.1 112.1)"/>
<path d="M533.5,103.7 C533.7,101.9 533.7,98.2 535.5,96.4 C537.2,94.7 542.1,93.3 544.1,93 C546.1,92.8 547.1,94 547.5,95 C547.9,96 547.8,98 546.7,99 C545.6,100.1 542.2,99.7 540.7,101.1 C539.2,102.4 538.6,106.1 537.5,107.1 C536.4,108.1 534.9,107.6 534.3,107.1 C533.6,106.5 533.3,105.4 533.5,103.7Z"/>
<path d="M553.1,97.6 C553.6,96.8 554.1,95.6 555.1,95.6 C556.1,95.6 557.8,97.8 559.1,97.6 C560.4,97.4 561.9,94.6 563.1,94.4 C564.3,94.2 565.7,95.4 566.1,96.4 C566.5,97.4 566.5,99.2 565.5,100.5 C564.5,101.7 562,103.5 560.1,104.1 C558.2,104.6 555.4,104.3 554.1,103.7 C552.8,103.1 552.5,101.5 552.3,100.5 C552.1,99.4 552.6,98.4 553.1,97.6Z"/>
<ellipse cx="568.7" cy="89" rx="2.4" ry="5" transform="rotate(-10 568.7 89)"/>
<path d="M542.7,121.3 L545.3,113.9 L552.7,112.5 L554.7,108.3 L576.5,102.5"/>
<path d="M537.5,122.5 L580.1,112.1"/>
<path d="M571.1,79 L620.2,114.1"/>
<path d="M577.5,93 C578.2,92.5 575.2,89.2 580.1,92.4 C585.1,95.7 602.5,108.5 607.2,112.5 C611.8,116.4 608.4,115.1 608.2,116.1 C607.9,117 610.6,121.1 605.6,118.1 C600.5,115.1 583,101.8 578.1,98 C573.3,94.3 576.4,96.5 576.3,95.6 C576.2,94.8 576.9,93.6 577.5,93Z"/>
<path d="M573.1,101.1 L613.2,129.7"/>
<ellipse cx="615.8" cy="123.7" rx="2.4" ry="5.2" transform="rotate(-10 615.8 123.7)"/>
<path d="M547.5,130.1 L547.5,166.1"/>
<ellipse cx="560.1" cy="150.1" rx="6.8" ry="9.4" transform="rotate(10 560.1 150.1)"/>
<path d="M524.1,144.1 C525.6,144.6 530.2,144.8 533.1,147.1 C535.9,149.4 538.8,154.9 541.1,158.1 C543.4,161.3 544.1,164.9 547.1,166.1 C550.1,167.3 555.6,166.3 559.1,165.1 C562.6,163.9 565.9,161.9 568.1,159.1 C570.3,156.3 570.3,150.8 572.1,148.1 C574,145.4 576.6,144.3 579.1,143.1 C581.6,141.9 585.6,142.1 587.1,141.1 C588.6,140.1 588,137.8 588.1,137.1"/>
<path d="M509.1,162.1 C509.6,161.7 510.4,159.5 512.1,159.7 C513.7,159.9 517.1,163.2 519.1,163.1 C521.1,163 522.2,160.4 524.1,159.1 C525.9,157.8 529.1,155.8 530.1,155.1"/>
<path d="M530.1,155.1 C530.7,155.8 533.2,156.6 534.1,159.1 C534.9,161.6 535.2,166.6 535.1,170.1 C534.9,173.6 533.9,178.1 533.1,180.1 C532.2,182.1 530.6,181.8 530.1,182.1"/>
<path d="M530.1,182.1 C529.1,181 525.9,176 524.1,175.1 C522.2,174.3 520.4,176.1 519.1,177.1 C517.7,178.1 517.2,181 516.1,181.1 C514.9,181.3 513.1,180 512.1,178.1 C511.1,176.3 510.6,172.8 510.1,170.1 C509.6,167.5 509.2,163.4 509.1,162.1"/>
<ellipse cx="528.7" cy="168.5" rx="2.2" ry="4.2"/>
<path d="M490,147.1 C491.2,146.9 495.5,144.9 497,146.1 C498.6,147.3 499.3,151.1 499.4,154.1 C499.6,157.1 499.3,161.8 498,164.1 C496.8,166.4 493.7,167.3 492,168.1 C490.4,169 488.7,169 488,169.1"/>
<path d="M496,168.1 L496,178.1"/>
<path d="M492,181.5 L508.7,177.1"/>
<path d="M534.7,180.1 L579.1,169.7"/>
<path d="M595.1,132.1 L605.1,144.1"/>
<path d="M604.1,126.1 L608.2,144.1"/>
<path d="M607.2,127.1 L612.2,140.1"/>
<ellipse cx="618.2" cy="153.1" rx="3" ry="6" transform="rotate(-5 618.2 153.1)"/>
<path d="M610.1,110 C611.7,111.3 618,114.8 620.1,117.5 C622.2,120.2 621.3,122.7 622.6,126.3 C623.8,129.9 625.1,134.9 627.6,138.8 C630.1,142.8 634.3,146.6 637.6,150.1 C641,153.7 645.2,157 647.7,160.1 C650.2,163.3 651.4,165.6 652.7,168.9 C653.9,172.3 654.8,174.4 655.2,180.2 C655.6,186 655.2,199.8 655.2,203.8"/>
<path d="M630.1,119.4 C630.7,121 631.8,125.4 633.9,128.8 C636,132.3 639.1,136.1 642.7,140.1 C646.2,144.1 652.2,148.9 655.2,152.6 C658.2,156.4 659.6,159.5 660.8,162.7 C662.1,165.8 662.4,170 662.7,171.4"/>
<ellipse cx="634.1" cy="157" rx="2.3" ry="5" transform="rotate(-8 634.1 157)"/>
<path d="M639.5,162.7 C639.5,161.4 641.3,160.1 642.7,161.4 C644,162.7 646.3,166.6 647.7,170.2 C649,173.7 650.6,180.2 650.8,182.7 C651,185.2 649.8,185.6 648.9,185.2 C648.1,184.8 646.8,182.9 645.8,180.2 C644.7,177.5 643.7,171.8 642.7,168.9 C641.6,166 639.5,163.9 639.5,162.7Z"/>
<path d="M625.1,115.6 L645.2,110"/>
<path d="M630.1,119.4 L633.3,123.2 L676.5,112.8 L676.5,116.3"/>
<path d="M642,125.7 L677.8,116.9 L682.8,120.7"/>
<path d="M651.4,138.2 C652.3,138.1 655.3,138 656.4,137.3 C657.6,136.7 657.4,135.7 658.3,134.4 C659.3,133.2 661.5,130.8 662.1,130.1"/>
<path d="M662.1,130.1 L686.5,123.2"/>
<path d="M686.5,123.2 C687.8,123.8 691.3,125.1 694.1,126.9 C696.8,128.7 701,131.8 702.8,133.8 C704.7,135.8 705,137 705.3,138.8 C705.7,140.7 704.8,144.1 704.7,145.1"/>
<path d="M656.4,137.3 L660.8,143.8"/>
<path d="M659,147 L664,145.7"/>
<path d="M664,142.6 C664.4,141.7 665.2,138.5 666.5,137 C667.7,135.4 670.7,133.8 671.5,133.2"/>
<path d="M671.5,133.2 L692.8,127.6"/>
<path d="M664,145.7 C665,146.9 668.6,149.8 670.2,152.6 C671.9,155.4 673.1,159.3 674,162.7 C674.9,166 675.5,169.6 675.9,172.7 C676.3,175.8 676.6,179 676.5,181.5 C676.4,184 676.1,186.4 675.3,187.7 C674.4,189.1 672.1,189.3 671.5,189.6"/>
<path d="M674,160.8 L686.5,157"/>
<path d="M686.5,157 C687.2,156.3 689.8,154.9 690.3,152.6 C690.8,150.3 689.8,144.8 689.7,143.2"/>
<path d="M682.1,146.4 L687.2,152"/>
<path d="M675.9,170.8 L689,167"/>
<ellipse cx="697.2" cy="161" rx="6.3" ry="8.1" transform="rotate(15 697.2 161)"/>
<ellipse cx="696.8" cy="161.4" rx="3" ry="4" transform="rotate(15 696.8 161.4)"/>
<path d="M697.2,149.9 L702.8,148.9"/>
<path d="M703.5,147.6 C704,148.4 705.8,150.1 706.6,152.6 C707.4,155.1 708.1,154.1 708.5,162.7 C708.9,171.2 709,196.9 709.1,203.8"/>
<path d="M676.5,181.5 L694.1,195.3 L695.3,203.8"/>
<path d="M665.2,203.8 L665.2,195.3 L687.8,191.5 L694.1,196.5"/>
<path d="M615.1,165.8 L620.1,167 L626.4,159.5 L632.6,165.2 L633.9,175.2"/>
<path d="M610.1,146.4 C609.9,147.2 608.4,149.3 608.8,151.4 C609.2,153.5 611.4,156.6 612.6,158.9 C613.7,161.2 615.2,164.1 615.7,165.2"/>
<path d="M597.5,157 L601.9,150.1"/>
<path d="M600.7,158.9 L604.4,153.9"/>
<path d="M593.8,129.4 L606.3,146.4 L615.1,165.8"/>
<path d="M596.3,158.3 L600,162.7 L605,165.2 L608.8,161.4 L611.3,170.2 L615.1,168.9"/>
<path d="M638.1,68.4 C639.6,68.2 643.6,67 647.1,67 C650.6,67 655.7,66.9 659.1,68.4 C662.4,69.9 664.8,72.9 667.1,76 C669.4,79.1 670.3,83.7 673.1,87 C675.9,90.4 682,93.5 684.1,96 C686.2,98.5 685.7,99.9 685.7,102.1 C685.7,104.2 685.5,107.6 684.1,109.1 C682.7,110.6 678.3,110.7 677.1,111.1"/>
<path d="M630.1,79.6 L652.1,93.6"/>
<path d="M659.1,91 L671.1,89"/>
<path d="M625,115.1 L677.1,100"/>
<path d="M475,175 C474.9,179 473.9,190.7 474,199 C474.2,207.4 474.9,216.7 476,225.1 C477.2,233.4 478.9,241.4 481,249.1 C483.2,256.7 485.7,264.1 489,271.1 C492.4,278.1 496.7,284.8 501,291.1 C505.4,297.5 510.1,303.5 515.1,309.1 C520.1,314.7 528.4,322.1 531.1,324.7"/>
<path d="M487,183 C487.2,188.3 487.2,205.7 488,215 C488.9,224.4 490,231.4 492,239.1 C494,246.7 497.2,254.7 500,261.1 C502.9,267.4 505.6,271.4 509.1,277.1 C512.6,282.8 519.1,292.1 521.1,295.1"/>
<path d="M487.4,191.8 L490.2,192 L502.4,200.6 L503,217 L498,218.2 L487.4,210.6 L487.4,191.8"/>
<path d="M488.6,193.8 L500,201.4 L500,215 L497.4,216.4 L488.6,209.4 L488.6,193.8"/>
<path d="M487.4,184.4 L503,196.2 L503.6,200"/>
<ellipse cx="481" cy="180" rx="2.2" ry="4.4"/>
<path d="M479,190 C479.3,186.4 480.4,188.6 481,188.6 C481.7,188.6 482.6,186.4 483,190 C483.4,193.6 483.7,206.4 483.4,210 C483.2,213.7 482.1,212 481.4,212 C480.8,212 479.8,213.7 479.4,210 C479,206.4 478.8,193.6 479,190Z"/>
<ellipse cx="481.6" cy="221.4" rx="2.2" ry="4.8" transform="rotate(-5 481.6 221.4)"/>
<ellipse cx="485.4" cy="242.1" rx="2.4" ry="5.2" transform="rotate(-15 485.4 242.1)"/>
<ellipse cx="495" cy="264.1" rx="2.4" ry="5.2" transform="rotate(-20 495 264.1)"/>
<path d="M498,274.1 C498.5,273.4 499,271.4 500.6,273.1 C502.3,274.8 506.9,281.8 508.1,284.1 C509.2,286.4 508,286.5 507.5,287.1 C507,287.7 506.6,289.1 505.1,287.5 C503.5,285.9 499.2,279.7 498,277.5 C496.9,275.3 497.6,274.8 498,274.1Z"/>
<path d="M572.1,175 L486,314.1"/>
<path d="M492,182 L513.1,176"/>
<path d="M509.1,196 L549.1,187"/>
<path d="M488.6,218.8 L500.6,224.4 L549.5,212"/>
<path d="M508.1,232.1 L511.1,239.1"/>
<path d="M512.1,242.1 L535.1,235.1"/>
<path d="M541.1,236.1 L565.1,228.1"/>
<path d="M545.1,229.1 L565.1,223"/>
<path d="M517.1,255.1 C516.7,254.7 514.7,254.9 515.1,253.1 C515.4,251.2 516.7,245.9 519.1,244.1 C521.4,242.2 527.4,242.4 529.1,242.1"/>
<path d="M523.1,267.1 L548.1,293.1"/>
<path d="M566.1,235.1 C566.4,236.4 568.4,240.1 568.1,243.1 C567.8,246.1 564.9,250.4 564.1,253.1 C563.3,255.7 562.8,257.1 563.1,259.1 C563.4,261.1 564.6,264.4 566.1,265.1 C567.6,265.8 571.1,263.4 572.1,263.1"/>
<path d="M569.1,249.1 L575.1,248.1"/>
<path d="M569.1,263.1 L576.1,264.1"/>
<path d="M604.1,243.1 C605,242.9 608.5,240.9 609.2,242.1 C609.8,243.2 609.3,248.4 608.2,250.1 C607,251.7 603.5,252.4 602.1,252.1 C600.8,251.7 600.5,248.7 600.1,248.1"/>
<path d="M614,170 C613.3,171.5 611.1,175.2 610.2,178.8 C609.2,182.4 608.6,186.8 608.4,191.4 C608.2,196 608.5,201.6 609,206.4 C609.5,211.2 610.3,215.4 611.4,220.2 C612.4,225.1 614,231.3 615.2,235.3 C616.3,239.2 616.8,241.3 618.2,244.1 C619.5,246.9 621,249.6 623.2,252.1 C625.3,254.6 628.2,257.6 631.2,259.1 C634.2,260.6 638.3,261.8 641.2,261.1 C644,260.4 647,256.1 648.2,255.1"/>
<path d="M621.6,168.8 C620.9,169.8 618.8,171.9 617.8,175 C616.7,178.1 615.6,183 615.2,187.6 C614.7,192.2 614.7,197.2 615.2,202.6 C615.6,208.1 616.6,214.8 617.8,220.2 C618.9,225.7 620.8,231.3 622.2,235.3 C623.6,239.2 624.5,241.3 626.2,244.1 C627.8,246.9 630,250.2 632.2,252.1 C634.3,253.9 636.7,254.9 639.2,255.1 C641.7,255.2 645.9,253.4 647.2,253.1"/>
<path d="M631.2,175 C631.7,179 632.8,190.7 634.2,199 C635.5,207.4 637.3,217.7 639.2,225.1 C641,232.4 643.7,238.1 645.2,243.1 C646.7,248.1 647.7,253.1 648.2,255.1"/>
<path d="M577.1,268.1 L604.1,244.1"/>
<path d="M558.3,303.9 L615.2,250.1 L620.2,255.1 L615.2,264.1"/>
<path d="M575.1,271.1 L577.1,281.1"/>
<path d="M578.1,269.1 L583.1,268.1"/>
<path d="M615.2,264.1 C613.2,264.9 605.8,266.9 603.1,269.1 C600.5,271.3 599.6,274.1 599.1,277.1 C598.6,280.1 598.8,284.4 600.1,287.1 C601.5,289.8 605,290.1 607.2,293.1 C609.3,296.1 610.2,301.5 613.2,305.1 C616.2,308.8 622.8,311.9 625.2,315.1 C627.5,318.4 626.8,323.1 627.2,324.7"/>
<path d="M619.2,265.1 L625.2,273.1 L627.2,263.1"/>
<path d="M625.2,283.1 C626.2,282.4 628.8,278.4 631.2,279.1 C633.5,279.8 638.3,284.4 639.2,287.1 C640,289.8 636.7,293.8 636.2,295.1"/>
<path d="M629.2,265.1 L641.2,267.1"/>
<path d="M626.2,271.1 C626,273.1 625,277.8 625.2,283.1 C625.3,288.4 625.8,296.2 627.2,303.1 C628.5,310.1 632.2,321.1 633.2,324.7"/>
<path d="M647.2,255.1 C647.4,257.4 648.5,262.4 648.2,269.1 C647.9,275.8 646,287.4 645.2,295.1 C644.4,302.8 644.2,310.2 643.2,315.1 C642.2,320.1 639.9,323.1 639.2,324.7"/>
<ellipse cx="650.2" cy="194" rx="2.2" ry="4.4"/>
<ellipse cx="648.8" cy="209" rx="2.2" ry="4.8"/>
<path d="M647.6,222 C647.9,219.6 649,220.5 649.6,220.6 C650.2,220.7 650.9,220.2 651.2,222.6 C651.5,225.1 651.9,232.6 651.6,235.1 C651.3,237.5 650.3,237.4 649.6,237.5 C648.9,237.5 647.9,238 647.6,235.5 C647.3,232.9 647.3,224.5 647.6,222Z"/>
<ellipse cx="653.8" cy="245.5" rx="2.2" ry="4.8"/>
<ellipse cx="653.2" cy="288.1" rx="2.2" ry="4.8" transform="rotate(5 653.2 288.1)"/>
<path d="M650.8,298.1 C651.3,295.6 652.2,296.6 652.8,296.7 C653.4,296.8 654.3,296.2 654.4,298.7 C654.5,301.3 653.7,309.6 653.2,312.1 C652.7,314.7 651.8,314.1 651.2,314.1 C650.6,314.1 649.7,314.8 649.6,312.1 C649.5,309.5 650.3,300.7 650.8,298.1Z"/>
<path d="M679.1,175 C675.4,178.3 660.8,186.7 657.1,195 C653.4,203.4 656.7,217.4 657.1,225.1 C657.4,232.7 659.1,236.1 659.1,241.1 C659.1,246.1 657.6,249.4 657.1,255.1 C656.6,260.8 655.9,269.8 656.1,275.1 C656.2,280.4 657.9,282.1 658.1,287.1 C658.2,292.1 657.6,298.9 657.1,305.1 C656.6,311.4 655.4,321.5 655.1,324.7"/>
<path d="M663.1,199 C663.4,203.4 665.3,218.4 665.1,225.1 C664.9,231.7 661.8,235.7 662.1,239.1 C662.4,242.4 666.8,241.7 667.1,245.1 C667.4,248.4 664.8,254.1 664.1,259.1 C663.4,264.1 662.4,270.4 663.1,275.1 C663.8,279.8 667.1,282.4 668.1,287.1 C669.1,291.8 669.4,296.9 669.1,303.1 C668.8,309.4 666.6,321.1 666.1,324.7"/>
<path d="M675.1,175 L675.1,181 L693.1,193"/>
<path d="M693.1,193 C693.6,194 695.8,196.4 696.1,199 C696.5,201.7 696,206.4 695.1,209 C694.3,211.7 691.8,214 691.1,215"/>
<path d="M691.1,215 L666.1,223"/>
<path d="M671.1,189 L675.1,188 L675.1,182"/>
<path d="M666.1,195 L689.1,191"/>
<path d="M666.1,195 C665.8,197 664.9,204.4 664.1,207 C663.3,209.7 661.6,210.4 661.1,211"/>
<ellipse cx="678.7" cy="208" rx="6" ry="8" transform="rotate(20 678.7 208)"/>
<ellipse cx="686.7" cy="204" rx="4.4" ry="5.6" transform="rotate(20 686.7 204)"/>
<path d="M684.1,220 C684.4,220.9 685.9,222.9 686.1,225.1 C686.3,227.2 685.3,231.7 685.1,233.1"/>
<path d="M685.1,233.1 L669.1,239.1"/>
<path d="M708.1,175 C708.2,183.3 709.1,215.7 708.7,225.1 C708.4,234.4 707.4,229.4 706.1,231.1 C704.9,232.7 702,234.4 701.1,235.1"/>
<path d="M701.1,235.1 L669.1,244.1"/>
<path d="M701.1,235.1 L703.1,241.1 L669.1,251.1"/>
<path d="M705.1,233.1 L705.1,324.7"/>
<path d="M703.1,269.1 L699.1,279.1"/>
<path d="M699.1,279.1 L669.1,288.1"/>
<path d="M700.1,281.1 L669.1,292.1"/>
<path d="M666.1,258.1 C666.9,258.2 669.7,257.6 671.1,259.1 C672.5,260.6 674.4,264.1 674.7,267.1 C675,270.1 674.2,275.1 673.1,277.1 C672,279.1 668.9,278.8 668.1,279.1"/>
<ellipse cx="683.1" cy="301.1" rx="9" ry="11" transform="rotate(10 683.1 301.1)"/>
<ellipse cx="683.1" cy="301.1" rx="4.4" ry="5.6" transform="rotate(10 683.1 301.1)"/>
<path d="M505.1,296 C507.7,299.3 514.4,308.7 521.1,316 C527.7,323.4 536.1,332 545.1,340.1 C554.1,348.1 566.1,357.1 575.1,364.1 C584.1,371.1 592.8,377.8 599.1,382.1 C605.5,386.4 608.8,388.6 613.2,390.1 C617.5,391.6 621.5,391.8 625.2,391.1 C628.8,390.4 632.2,388.9 635.2,386.1 C638.2,383.3 640.9,378.8 643.2,374.1 C645.5,369.4 647.5,363.7 649.2,358.1 C650.9,352.4 652.5,343.1 653.2,340.1"/>
<path d="M586.5,353.9 L615.2,373.1 L617.2,372.1 L614.2,346.1"/>
<path d="M614.2,346.1 L625.2,338 L636.2,336"/>
<ellipse cx="512.1" cy="295" rx="2.2" ry="5" transform="rotate(-25 512.1 295)"/>
<path d="M517.5,302.4 C518.1,301.7 518.3,299 520.7,301.6 C523,304.2 529.7,314.7 531.5,318 C533.2,321.4 531.7,321 531.1,321.6 C530.5,322.3 530.2,324.6 527.9,322 C525.5,319.4 518.8,309.3 517.1,306 C515.3,302.7 516.9,303.1 517.5,302.4Z"/>
<ellipse cx="537.5" cy="327" rx="2.2" ry="5" transform="rotate(-25 537.5 327)"/>
<path d="M544.1,331 C544.6,330.4 545,329.7 547.1,331 C549.2,332.4 555.1,337.1 556.7,339 C558.3,341 557.2,341.8 556.7,342.5 C556.2,343.1 555.6,344.3 553.5,343.1 C551.4,341.8 545.7,337 544.1,335 C542.5,333 543.6,331.7 544.1,331Z"/>
<ellipse cx="562.7" cy="346.1" rx="2.4" ry="5.2" transform="rotate(-20 562.7 346.1)"/>
<path d="M569.5,349.7 C570,348.9 570.8,348.2 572.7,349.3 C574.7,350.3 579.7,354.3 581.1,356.1 C582.5,357.8 581.7,358.9 581.1,359.7 C580.6,360.4 579.9,361.5 577.9,360.5 C576,359.5 570.9,355.5 569.5,353.7 C568.1,351.9 569,350.4 569.5,349.7Z"/>
<ellipse cx="586.7" cy="363.1" rx="2.2" ry="5" transform="rotate(-20 586.7 363.1)"/>
<path d="M592.1,366.1 C592.6,365.3 593.3,364.7 595.1,365.7 C597,366.6 601.8,370.1 603.1,371.7 C604.5,373.2 603.6,374.4 603.1,375.1 C602.6,375.8 602,376.9 600.1,376.1 C598.3,375.3 593.5,371.7 592.1,370.1 C590.8,368.4 591.6,366.8 592.1,366.1Z"/>
<ellipse cx="608.2" cy="378.5" rx="2.2" ry="4.8" transform="rotate(-15 608.2 378.5)"/>
<path d="M614.2,379.7 C614.7,378.9 616.3,378.6 617.6,379.1 C618.8,379.6 621,381.4 621.6,382.5 C622.2,383.6 621.8,385 621.2,385.7 C620.5,386.4 618.7,386.8 617.6,386.5 C616.4,386.2 614.7,384.8 614.2,383.7 C613.6,382.6 613.6,380.5 614.2,379.7Z"/>
<ellipse cx="625.6" cy="381.7" rx="2" ry="4.8" transform="rotate(10 625.6 381.7)"/>
<path d="M630.2,375.1 C630.7,373.2 633,369 634.2,367.7 C635.3,366.3 636.5,366.7 637.2,367.1 C637.8,367.5 638.7,368.2 638.2,370.1 C637.7,371.9 635.3,376.6 634.2,378.1 C633,379.6 631.8,379.6 631.2,379.1 C630.5,378.6 629.7,377 630.2,375.1Z"/>
<ellipse cx="640.2" cy="360.5" rx="2.2" ry="5" transform="rotate(15 640.2 360.5)"/>
<ellipse cx="644.2" cy="346.1" rx="2.4" ry="5.2" transform="rotate(5 644.2 346.1)"/>
<ellipse cx="643.8" cy="326" rx="2.4" ry="5.2" transform="rotate(5 643.8 326)"/>
<path d="M650.2,299 C650.6,295.8 651.5,297 652.2,297 C652.9,297 654,295.8 654.2,299 C654.4,302.2 654,312.8 653.6,316 C653.2,319.3 652.3,318.4 651.6,318.4 C650.9,318.5 649.8,319.7 649.6,316.4 C649.4,313.2 649.8,302.2 650.2,299Z"/>
<path d="M645.2,290 C645,293.3 645.4,305 644.2,310 C643,315 639.5,315.7 638.2,320 C636.8,324.4 637,330 636.2,336 C635.3,342.1 634.3,350.7 633.2,356.1 C632,361.4 630.7,365.7 629.2,368.1 C627.7,370.4 625.2,370.6 624.2,370.1 C623.2,369.6 623.3,365.9 623.2,365.1"/>
<path d="M656.2,290 C656.4,295 657.4,311.7 657.2,320 C657,328.4 656,335 655.2,340.1 C654.4,345.1 652.7,348.4 652.2,350.1"/>
<ellipse cx="623.8" cy="353.1" rx="3.4" ry="8" transform="rotate(-5 623.8 353.1)"/>
<path d="M619.2,343.1 C620.2,342.6 623.3,339.5 625.2,340.1 C627,340.6 629.2,343.1 630.2,346.1 C631.2,349.1 631.5,354.6 631.2,358.1 C630.8,361.6 629.5,365.4 628.2,367.1 C626.8,368.7 624,367.9 623.2,368.1"/>
<path d="M552.1,325 L564.1,320 L570.1,310 L605.1,295"/>
<path d="M572.1,315 L579.1,318 L580.1,312"/>
<path d="M581.1,318 L610.2,305"/>
<path d="M588.1,326 L594.1,330"/>
<path d="M601.1,334 L627.2,306"/>
<path d="M609.2,331 L627.2,323"/>
<path d="M605.1,340.1 L613.2,344.1"/>
<path d="M625.2,309 C625.8,310.9 627,317.2 629.2,320 C631.3,322.9 636.7,325 638.2,326"/>
<path d="M503,290 L486,314.4"/>
<path d="M668.1,298 C668.4,300 670.3,306.7 670.1,310 C669.9,313.4 667.6,316.7 667.1,318"/>
<path d="M663.1,320 C664.1,321.4 667.4,325 669.1,328 C670.8,331 672.4,334.4 673.1,338 C673.8,341.7 673.1,348.1 673.1,350.1"/>
<path d="M673.1,350.1 L651.1,358.1"/>
<path d="M666.1,321 L662.1,340.1"/>
<path d="M705.1,290 L705.1,328 L701.1,336"/>
<ellipse cx="683.1" cy="301" rx="8.4" ry="10.4" transform="rotate(5 683.1 301)"/>
<ellipse cx="683.1" cy="301" rx="4.4" ry="5.6" transform="rotate(5 683.1 301)"/>
<ellipse cx="689.5" cy="346.1" rx="11.6" ry="14.4" transform="rotate(10 689.5 346.1)"/>
<ellipse cx="689.5" cy="346.1" rx="6.4" ry="8.4" transform="rotate(10 689.5 346.1)"/>
<path d="M673.1,346.1 L678.1,347.1"/>
<path d="M671.1,363.1 L681.1,359.1"/>
<path d="M655.1,358.1 L669.1,354.1"/>
<path d="M659.1,362.1 L668.1,360.1 L668.1,356.1"/>
<path d="M661.1,368.1 L672.1,365.7 L671.1,360.1"/>
<path d="M655.1,376.1 L669.1,373.1 L670.1,367.1"/>
<path d="M655.1,376.1 L656.1,384.1 L641.1,387.1"/>
<path d="M657.1,359.1 C656.2,361.9 654.2,371.9 652.1,376.1 C649.9,380.3 645.4,382.8 644.1,384.1"/>
<path d="M625,391.1 L641.1,387.1"/>
<path d="M521.1,295.1 L538.9,317.9"/>
<path d="M538.9,317.9 C539.2,318.1 540,319.1 540.7,319.2 C541.5,319.2 542.8,318.4 543.3,318.3"/>
<path d="M543.3,318.3 L555.8,302"/>
<path d="M555.8,302 C556.1,301.9 557.2,300.6 557.4,301.1 C557.6,301.6 557.1,304.5 557,305.1"/>
<path d="M557,305.1 L547.6,322.1"/>
<path d="M547.6,322.1 C547.6,322.6 547,324.3 547.4,325.2 C547.8,326.1 549.7,327.3 550.1,327.7"/>
<path d="M550.1,327.7 L586.5,353.8"/>
<path d="M558.3,303.9 L563.3,299.1"/>
<path d="M570.7,79.5 L632.8,63.2"/>
<path d="M632.8,63.2 C633.3,63.3 635.1,63.3 635.9,64 C636.7,64.8 637.5,66.5 637.8,67.6 C638.1,68.6 637.6,69.9 637.5,70.3"/>
<path d="M624,75.7 L637.8,70.1"/>
<path d="M637.8,70.1 C639,70.6 643,71.1 645.3,73.2 C647.6,75.3 649.7,79.1 651.6,82.6 C653.5,86 655.8,92 656.6,93.9"/>
<path class="b" d="M555.7,71.9 L555.7,89.5"/>
<path d="M553.2,183.8 L561.9,187.6 L560.1,185.1"/>
<path d="M553.2,191.4 L561.9,191.4"/>
<path d="M561.9,187.6 L563.2,191.4"/>
<path d="M573.2,185.7 L576.4,191.4"/>
<path d="M565.1,197 L571.3,206.4"/>
<path d="M556.9,210.2 L562.6,212.7 L560.7,206.4"/>
<path d="M568.8,175.1 C567.8,176.3 563.5,180.5 562.6,182.6 C561.6,184.7 563.1,186.8 563.2,187.6"/>
<path d="M562.6,202 C562.7,203.8 562.6,208.6 563.2,212.7 C563.8,216.8 565,222.5 566.3,226.5 C567.7,230.4 569.5,233.6 571.3,236.5 C573.2,239.4 576.6,242.6 577.6,243.8"/>
<path d="M567,227.7 L568.2,243.8"/>
<path d="M573.2,197 C572.7,198.6 570.9,202.6 570.3,206.4 C569.8,210.3 569.6,215.8 570.1,220.2 C570.6,224.6 571.8,229.5 573.2,232.7 C574.7,236 577.9,238.5 578.9,239.6"/>
<path d="M573.2,197 C573.8,196 575.3,192.5 577,190.7 C578.7,189 581.3,187.3 583.3,186.4 C585.2,185.4 588,185.3 588.9,185.1"/>
<path d="M588.9,185.1 C589.7,186.4 592.3,189.3 593.9,192.6 C595.5,196 597.1,200.6 598.3,205.2 C599.5,209.8 600.8,215.6 601.2,220.2 C601.6,224.8 601.3,229.4 600.8,232.7 C600.3,236.1 599.3,238.4 598.3,240.3 C597.3,242.1 595.2,243.2 594.5,243.8"/>
<path d="M580.1,169.4 C581.3,170.3 584.8,172.3 587,174.4 C589.2,176.6 591.4,179.4 593.3,182.6 C595.2,185.8 596.8,190.1 598.3,193.9 C599.8,197.6 601.4,203.3 602.1,205.2"/>
<path d="M583.3,186.4 C583,188.7 581.8,195.3 582,200.1 C582.2,205 583.3,210.4 584.5,215.2 C585.8,220 587.5,225.2 589.5,229 C591.5,232.7 595.3,236.3 596.4,237.8"/>
<ellipse cx="593.7" cy="178.2" rx="1.6" ry="4.4" transform="rotate(-8 593.7 178.2)"/>
<path d="M595.2,178.8 L597.7,187.6"/>
<path d="M597,180.1 L601.4,182.6"/>
<path d="M575.7,166.3 C576.3,165.3 577.5,161.7 578.9,160 C580.2,158.4 582,157.2 583.9,156.3 C585.8,155.3 588.3,154.5 590.1,154.4 C592,154.3 593.7,154.9 595.2,155.6 C596.6,156.4 598.3,158.3 598.9,158.8"/>
<path d="M588.3,170.7 C588.6,170 589,167.6 590.1,166.3 C591.3,165 593.5,163.8 595.2,163.2 C596.8,162.5 598.6,162.2 600.2,162.5 C601.7,162.9 603.8,164.6 604.6,165"/>
<path d="M584.5,166.9 C585,166.2 586.5,163.7 587.6,162.5 C588.8,161.4 590.8,160.4 591.4,160"/>
<path d="M614,170.1 C615,169.6 618.1,168 620.2,167.6 C622.3,167.1 624.6,167.2 626.5,167.6 C628.4,167.9 630.7,169.1 631.5,169.4"/>
<path d="M633.4,173.8 L637.2,178.8 L637.8,191.4 L644.1,195.1 L644.1,205.2"/>
<path d="M602.7,187 L602.7,201.4"/>
<path d="M601.4,200.1 L603.9,202.7 L608.3,225.2"/>
<path d="M604.6,218.3 L609,218.3 L610.2,225.2 L604.6,225.2Z"/>
<path d="M602.7,202.7 L605.2,225.2 L602.7,236.5"/>
<path d="M577.6,243.8 C578.8,244.3 582.5,246.3 585.1,246.5 C587.7,246.8 590.8,246.6 593.2,245.3 C595.6,244 597.9,241.3 599.5,238.8 C601.1,236.2 602.1,231.5 602.6,230"/>
<path d="M578.8,239.7 C580.3,240 584.7,241.9 587.6,241.5 C590.5,241.2 594.3,239.4 596.4,237.5 C598.4,235.6 599.5,231.3 600.1,230"/>
<path d="M603.3,243.8 L604.1,246.9 L606.1,246.3 L605.8,243.2"/>
</g>
<!-- p173 -->
<g class="k">
<path d="M466.3,330.1 C466.3,329 466.6,327.9 467.5,327.6 C468.5,327.3 470.4,327.6 471.9,328.2 C473.5,328.8 475.4,330 476.9,331.3 C478.5,332.7 480.5,334.9 481,336.3 C481.5,337.8 480.9,339.4 480.1,340.1 C479.3,340.8 477.9,341 476.3,340.7 C474.7,340.4 472.2,339.4 470.7,338.2 C469.2,337.1 468,335.2 467.2,333.8 C466.5,332.5 466.2,331.1 466.3,330.1Z"/>
<path d="M469.7,331.3 C470.2,330.7 472,330.4 473.2,330.7 C474.4,331 476,332.2 476.9,333.2 C477.9,334.3 478.8,336 478.8,337 C478.8,337.9 477.9,338.7 476.9,338.8 C476,339 474.3,338.3 473.2,337.6 C472.1,336.9 470.9,335.5 470.4,334.5 C469.8,333.4 469.3,332 469.7,331.3Z"/>
<path d="M471.9,332.6 L475.1,332.6 L477.3,335.1 L476.3,337.3 L473.8,337 L471.6,334.8Z"/>
<path class="b" d="M468.2,326.9 C469,326.7 471.4,325.4 473.2,325.7 C475,326 477.3,327.6 478.8,328.8 C480.4,330.1 481.9,332.2 482.6,333.2 C483.3,334.3 482.8,334.8 482.9,335.1"/>
<path class="b" d="M470,323.8 C470.9,323.6 473.4,322.6 475.1,322.9 C476.7,323.2 478.6,324.4 480.1,325.7 C481.6,327 483.4,329.5 484.1,330.7 C484.9,331.8 484.4,332.3 484.5,332.6"/>
<path class="b" d="M471.6,320.7 C472.4,320.6 474.6,319.6 476.3,320 C478,320.5 480.3,321.8 482,323.2 C483.6,324.5 485.3,327 486,328.2 C486.8,329.3 486.3,329.8 486.3,330.1"/>
<path class="b" d="M473.2,317.5 C474.1,317.5 477,316.8 478.8,317.2 C480.6,317.6 482.4,318.7 483.8,320 C485.3,321.3 486.9,323.7 487.6,325.1 C488.3,326.4 487.9,327.7 487.9,328.2"/>
<path d="M473.2,317.5 L466.3,330.1"/>
<path d="M487.9,328.2 L480.1,340.1"/>
</g>
<!-- p250 -->
<circle cx="733.2" cy="150.7" r="5.3" fill="none" stroke="#dcdcdc" stroke-width="1.2"/>
<!-- p255b -->
<g class="k">
<path d="M725,289.4 C725.6,288 727.4,286.2 728.5,286.4 C729.5,286.6 730.7,289 731.3,290.7 C731.9,292.3 732.4,294.5 732.2,296.3 C732,298.1 730.8,300.7 730,301.3 C729.3,302 728.4,301.1 727.5,300.1 C726.7,299 725.4,296.8 725,295.1 C724.6,293.3 724.5,290.9 725,289.4Z"/>
<path d="M728.5,285 C729.1,284.7 730.8,283.2 731.9,283.2 C733,283.2 734.1,283.9 735.1,285 C736.1,286.2 737.3,288.1 737.9,290.1 C738.5,292 738.7,295 738.5,297 C738.3,298.9 737.7,301 736.9,302 C736.2,302.9 734.7,302.7 733.8,302.6 C732.9,302.5 731.7,301.5 731.3,301.3"/>
<path d="M730.7,285.7 C731.3,286.2 733.5,287.2 734.4,288.8 C735.4,290.4 736.2,293.2 736.3,295.1 C736.4,297 735.8,299.1 735.1,300.1 C734.3,301.1 732.4,300.9 731.9,301"/>
<path class="b" d="M735.7,287.6 C735.9,288.3 736.9,290.4 737.3,291.9 C737.6,293.5 737.5,296.1 737.6,297"/>
</g>
<!-- p128 -->
<g class="k">
<path d="M473.2,455 L491.4,449.4"/>
<path d="M508.3,456.9 L512.1,460.7"/>
<path d="M521.5,472.6 L524,475.7"/>
<ellipse cx="480.4" cy="455.7" rx="1" ry="1"/>
<path d="M475.7,463.2 C476.3,462.6 476.9,460.6 478.9,459.4 C480.8,458.3 485.3,456.6 487.6,456.3 C489.9,456 490.6,456.7 492.7,457.6 C494.7,458.4 498.1,460.5 500.2,461.3 C502.3,462.1 504.3,461.9 505.2,462.6 C506.1,463.2 505.7,464.7 505.8,465.1"/>
<path d="M477.6,465.1 L488.3,461.3 L491.4,462.6 L513.3,485.1 L512.7,488.9 L505.2,491.4"/>
<path d="M480.1,468.2 L489.5,465.7 L510.2,487 L509.6,489.5"/>
<path d="M476.4,465.1 L478.9,469.5 L488.3,481.4"/>
<path d="M487.6,483.9 L492.7,486.4"/>
<path d="M456.9,458.8 C456.5,459.9 454.8,463 454.4,465.1 C454,467.2 453.5,469.3 454.4,471.3 C455.4,473.4 457.9,475.8 460.1,477.6 C462.3,479.4 465.7,480.4 467.6,482 C469.5,483.6 470.5,485.2 471.3,487 C472.2,488.8 471.3,490.9 472.6,492.7 C473.8,494.4 477.1,495.8 478.9,497.7 C480.6,499.6 482.3,501.8 483.3,503.9 C484.2,506 483.6,508.5 484.5,510.2 C485.4,511.9 486.8,513.2 488.9,514 C491,514.7 495.7,514.5 497,514.6"/>
<path d="M466.3,469.5 L473.8,477.6"/>
<path d="M473.8,478.9 L472,486.4"/>
<path d="M483.3,483.9 L488.3,490.1"/>
<path d="M487,495.2 C486.6,496.2 485.1,500 484.5,501.4 C483.9,502.9 483.5,503.5 483.3,503.9"/>
<path d="M495.8,505.8 L521.5,514.6"/>
<path d="M497,508.3 L497,514.6 L525.3,527.8"/>
<path d="M525.3,527.8 C526.1,528 528,529.3 530.3,529.3 C532.6,529.3 536.8,528.5 539,527.8 C541.2,527 542.7,525.1 543.4,524.6"/>
<path d="M543.4,524.6 L544.1,510.2"/>
<path d="M503.9,495.2 L522.7,490.1 L536.5,490.1"/>
<path d="M505.2,497 L522.7,505.2"/>
<path d="M502.7,500.2 L519,508.3"/>
<path d="M522.7,490.1 C521.9,490.8 518.6,492.2 517.7,493.9 C516.9,495.6 516.9,498.3 517.7,500.2 C518.6,502.1 521.9,504.4 522.7,505.2"/>
<path d="M530.3,490.8 L530.3,502.7"/>
<path d="M534.7,490.8 L534.7,503.9"/>
<path d="M536.5,490.8 L541.5,506.4"/>
<path d="M520.2,508.3 C520.4,509.3 520.2,512.6 521.5,514 C522.7,515.3 525,516.2 527.8,516.5 C530.5,516.8 535.2,516.5 537.8,515.8 C540.4,515.2 542.5,513.2 543.4,512.7"/>
<ellipse class="w" cx="465.7" cy="461.3" rx="8.5" ry="7.3"/>
<ellipse cx="465.7" cy="461.1" rx="5.3" ry="4.5"/>
<ellipse class="w" cx="499.9" cy="451" rx="8.5" ry="7.5"/>
<ellipse cx="499.9" cy="451" rx="5.3" ry="4.8"/>
<ellipse class="w" cx="516.1" cy="468.2" rx="6.5" ry="6"/>
<ellipse cx="516.1" cy="468.2" rx="3.8" ry="3.5"/>
<ellipse class="w" cx="481.4" cy="478.2" rx="6.5" ry="5.8"/>
<ellipse cx="481.4" cy="478.2" rx="3.8" ry="3.4"/>
<ellipse class="w" cx="529.6" cy="482.9" rx="8.1" ry="7.3"/>
<ellipse cx="529.6" cy="482.9" rx="5" ry="4.5"/>
<ellipse class="w" cx="495.8" cy="493.7" rx="8.1" ry="7.3"/>
<ellipse cx="495.8" cy="493.7" rx="5" ry="4.5"/>
<ellipse class="w" cx="530.9" cy="510.8" rx="11.5" ry="5.8"/>
<ellipse cx="530.9" cy="510.8" rx="6.9" ry="3.1"/>
</g>
<!-- p125 -->
<g class="k">
<path d="M273.2,573.3 L297.7,566.4"/>
<path d="M317.7,567.7 L337.8,575.8"/>
<path d="M283.2,585.2 L305.2,578.3 L312.7,577.7 L331.5,585.2 L329,588.4 L320.2,590.2"/>
<path d="M283.2,585.2 L285.1,588.4 L296.4,594"/>
<path d="M288.9,589.6 L297.7,586.5"/>
<path d="M300.2,584.8 C302.3,584.4 309.1,581.5 312.7,582.1 C316.3,582.7 320,587.3 321.5,588.4"/>
<path d="M317.7,598.4 L345.3,590.2"/>
<path d="M312.7,601.5 L327.7,607.2"/>
<path d="M256.9,579 C256.4,580.7 253.9,586.6 253.8,589.6 C253.7,592.6 253.6,594.6 256.3,597.1 C259,599.6 266.1,602.4 270.1,604.7 C274,607 277.6,608.4 280.1,610.9 C282.6,613.4 284.3,615.9 285.1,619.7 C286,623.5 284.5,630.1 285.1,633.5 C285.7,636.8 286.8,638.4 288.9,639.8 C291,641.1 295.1,641.8 297.7,641.6 C300.2,641.4 302.3,640.9 303.9,638.5 C305.6,636.1 306.7,632.2 307.7,627.2 C308.6,622.2 309.3,611.6 309.6,608.4"/>
<path d="M268.8,590.9 L302.7,608.4"/>
<path d="M296.4,594.6 C296.2,595.7 294.7,599 295.1,600.9 C295.6,602.8 297.7,604.7 298.9,605.9 C300.2,607.2 302,608 302.7,608.4"/>
<path d="M309.6,608.4 L306.4,618.4 L310.2,617.8"/>
<path d="M355.3,587.7 L354.1,590.9 L355.3,599.6"/>
<path d="M355.3,588.4 C355.6,592.1 356.8,605.7 357.2,610.9 C357.6,616.1 359.2,617.6 357.8,619.7 C356.5,621.8 352.6,622.7 349.1,623.5 C345.5,624.2 340.5,624.6 336.5,624.1 C332.6,623.6 328.8,621.6 325.2,620.3 C321.7,619.1 317.7,617.1 315.2,616.6 C312.7,616 311,617.1 310.2,617.2"/>
<path d="M326.5,621.6 L334,628.5 L340.3,628.5 L345.3,624.7"/>
<path class="b" d="M334,629.1 L340.3,629.1"/>
<path d="M354.1,600.9 C354.5,601.9 356.4,605.5 356.6,607.2 C356.8,608.8 355.5,610.3 355.3,610.9"/>
<ellipse class="w" cx="341.5" cy="603.7" rx="13.5" ry="7"/>
<ellipse cx="341.5" cy="602.8" rx="10.3" ry="5"/>
<path d="M331.8,603.4 C331.9,602.8 331.1,600.6 332.8,599.6 C334.4,598.7 338.6,597.8 341.5,597.8 C344.5,597.8 348.6,598.7 350.3,599.6 C352,600.6 351.4,602.8 351.6,603.4"/>
<ellipse class="w" cx="266.9" cy="580.8" rx="10" ry="8.8"/>
<ellipse cx="267.3" cy="580.6" rx="6.3" ry="5.6"/>
<ellipse class="w" cx="307.7" cy="568.3" rx="9.8" ry="8.5"/>
<ellipse cx="307.7" cy="568.3" rx="6.3" ry="5.5"/>
<ellipse class="w" cx="347.2" cy="579.6" rx="9.8" ry="8.8"/>
<ellipse cx="347.2" cy="579.3" rx="6" ry="5.5"/>
<ellipse class="w" cx="306.7" cy="592.1" rx="10.3" ry="8.8"/>
<ellipse cx="307.1" cy="592.1" rx="6.3" ry="5.6"/>
</g>
<!-- p134 -->
<g class="k">
<path d="M487.6,586.9 L507,580.7"/>
<path d="M523.3,590.7 L538.4,605.1"/>
<path d="M490.7,596.3 C491.3,595.6 491,593.2 493.9,592 C496.7,590.7 504.7,589.1 507.7,588.8 C510.6,588.5 510.8,589.9 511.4,590.1"/>
<path d="M511.4,590.1 L530.8,607.6 L530.2,610.8 L522.7,613.3"/>
<path d="M492,598.8 L505.1,594.5 L510.2,596.3 L523.3,612"/>
<path d="M497.6,605.1 L507.7,602 L512.7,605.1 L520.2,613.3"/>
<path d="M500.8,608.9 L508.9,606.4 L513.3,608.9 L517.7,615.1"/>
<path d="M512.7,592 L525.2,608.3"/>
<path d="M490.7,596.3 L492.6,601.4 L502.6,612"/>
<path d="M473.2,590.7 L469.4,593.2 L466.3,602 L477.6,614.5 L480.7,610.8 L484.5,612 L493.9,623.9 L491.4,626.4"/>
<path d="M473.8,605.1 L480.1,611.4"/>
<path d="M483.2,612 L484.5,616.4"/>
<path d="M480.1,615.1 L490.7,628.9"/>
<path d="M485.1,602.6 L501.4,616.4"/>
<path d="M488.8,601.4 L502.6,613.9"/>
<path d="M500.8,618.9 L491.4,627.1 L490.1,630.2 L491.4,637.1 L501.4,647.7 L504.5,647.7"/>
<path d="M493.2,630.2 L499.5,638.3"/>
<path d="M507.7,637.1 L504.5,647.7"/>
<path d="M504.5,647.7 L536.5,655.3"/>
<path d="M536.5,655.3 C538.4,655.2 544.1,655.5 547.8,654.6 C551.4,653.8 556.7,651 558.4,650.3"/>
<path d="M558.4,650.3 L558.4,633.3"/>
<path d="M513.9,633.3 L532.7,639"/>
<path d="M523.3,634 L555.3,623.9"/>
<path d="M551.5,620.2 L558.4,633.3"/>
<ellipse class="w" cx="545.5" cy="636.5" rx="13.2" ry="6.3" transform="rotate(-8 545.5 636.5)"/>
<ellipse cx="542.1" cy="637.1" rx="4" ry="2.5"/>
<ellipse class="w" cx="481.3" cy="593.2" rx="8.8" ry="8.5"/>
<ellipse cx="481.6" cy="593.8" rx="4" ry="3.8"/>
<ellipse class="w" cx="515.8" cy="582.6" rx="8.8" ry="8.5"/>
<ellipse cx="516.1" cy="582.6" rx="4.3" ry="4"/>
<ellipse class="w" cx="544" cy="613.3" rx="9.4" ry="8.5"/>
<ellipse cx="544" cy="613.3" rx="4.4" ry="4"/>
<ellipse class="w" cx="509.5" cy="623.9" rx="9" ry="8.8"/>
<ellipse cx="509.5" cy="623.9" rx="4.4" ry="4.1"/>
</g>
<!-- p131 -->
<g class="k">
<path d="M663.8,421.9 L681.4,417.6"/>
<path d="M697.7,427.6 L700.2,433.2 L710.2,441.4"/>
<ellipse cx="671.4" cy="427.8" rx="1.9" ry="1.4" transform="rotate(15 671.4 427.8)"/>
<path d="M647.6,427 L643.2,429.5 L640,438.9 L650.7,455.2 L655.7,453.9 L658.8,445.8 L671.4,453.9 L668.9,458.9"/>
<path d="M643.2,429.5 L653.2,441.4 L658.8,445.8"/>
<path d="M655.7,453.9 L657.6,447.6"/>
<path d="M661.3,456.4 L665.7,460.2 L662.6,472.7 L675.1,489.6 L685.2,486.5 L692.7,476.5 L691.4,466.4"/>
<path d="M668.9,458.9 L662.6,472.7"/>
<path d="M670.1,457 L683.9,465.8 L698.3,465.2"/>
<path d="M683.9,465.8 L675.1,489.6"/>
<path d="M691.4,466.4 L685.2,486.5"/>
<path d="M698.3,449.5 L712.7,446.4"/>
<path d="M698.3,450.1 L699.6,465.2"/>
<path d="M698.3,465.2 L710.2,466.4"/>
<path d="M692.7,476.5 C695.2,476.3 703.1,475.1 707.7,475.2 C712.3,475.3 716.5,477.3 720.3,477.1 C724,476.9 727.7,475.3 730.3,474 C732.9,472.6 735,469.8 735.9,469"/>
<path d="M735.9,469 C736,467 736.8,459.8 736.3,457 C735.8,454.3 734,453.8 732.8,452.7 C731.6,451.5 729.7,450.6 729,450.1"/>
<path d="M702.7,460.2 C702.9,459.6 701.9,457.8 704,456.4 C706.1,455.1 711.1,453 715.3,452 C719.4,451.1 726.7,451 729,450.8"/>
<path d="M704,460.2 C704.2,460.6 702.9,462.3 705.2,462.9 C707.5,463.6 713.6,464.6 717.8,464.2 C721.9,463.8 727.4,461.7 730.3,460.4 C733.2,459.1 734.3,457.1 735.1,456.4"/>
<ellipse class="w" cx="719.6" cy="457.4" rx="14.8" ry="6" transform="rotate(-10 719.6 457.4)"/>
<ellipse cx="715.9" cy="457.7" rx="4.4" ry="2.3"/>
<path class="w" d="M648.2,429.5 C648.5,430.4 648.6,433.7 650.1,435.1 C651.5,436.5 654.7,437.8 657,437.6 C659.3,437.4 662.5,435.4 663.8,433.8 C665.2,432.3 664.7,429.1 664.9,428.2"/>
<ellipse class="w" cx="656.3" cy="427" rx="8.5" ry="7.3"/>
<ellipse cx="656.6" cy="427.3" rx="4" ry="3.5"/>
<path class="w" d="M681.7,418.8 C682,420 682.3,424.1 683.9,425.7 C685.5,427.3 689,428.4 691.4,428.2 C693.8,428 696.9,426 698.3,424.4 C699.7,422.9 699.6,419.7 699.8,418.8"/>
<ellipse class="w" cx="690.8" cy="416.9" rx="9" ry="7.8"/>
<ellipse cx="690.8" cy="416.9" rx="4.3" ry="3.8"/>
<path class="w" d="M713.4,441.4 C713.9,442.2 714.9,445.2 716.5,446.4 C718.1,447.5 720.7,448.4 722.8,448.3 C724.9,448.2 727.7,447.1 729,445.8 C730.4,444.4 730.6,441.1 730.9,440.1"/>
<ellipse class="w" cx="722.1" cy="438.9" rx="8.8" ry="7.5"/>
<ellipse cx="722.5" cy="439.1" rx="4.1" ry="3.6"/>
<path class="w" d="M677.6,451.4 C677.8,452.3 677.4,455.6 678.9,457 C680.4,458.5 683.9,460.2 686.4,460.2 C688.9,460.2 692.3,458.6 693.9,457 C695.6,455.5 696,451.8 696.4,450.8"/>
<ellipse class="w" cx="687" cy="449.5" rx="9.4" ry="7.8"/>
<ellipse cx="687.4" cy="449.9" rx="4.3" ry="3.8"/>
</g>
<!-- p140 -->
<g class="k">
<ellipse cx="743.9" cy="394" rx="6.9" ry="6.9"/>
<path d="M735.1,395.5 C735.2,396.2 735.3,398.7 735.8,400.2 C736.4,401.6 737.2,403.2 738.6,404.1 C740,405 742.5,405.8 744.1,405.7 C745.7,405.5 747.1,404.5 748,403.3 C749,402.1 749.3,399.4 749.6,398.6"/>
<path d="M738.6,398.2 L743.7,401.4 L749.6,398.2"/>
<path d="M736.2,401 L727.6,420.6"/>
<path d="M742.5,405.7 L733.5,424.6"/>
<path d="M735.6,403.7 C736,404.4 736.8,407.3 737.8,408 C738.8,408.7 741,407.9 741.6,407.9"/>
<path d="M733.9,407.6 C734.2,408.4 735.1,411.3 736.1,412 C737.1,412.7 739.2,411.8 739.9,411.8"/>
<path d="M732.1,411.6 C732.5,412.3 733.2,415.2 734.2,415.9 C735.2,416.6 737.5,415.6 738.1,415.6"/>
<path d="M730.3,415.5 C730.7,416.2 731.3,419 732.3,419.7 C733.3,420.3 735.7,419.4 736.4,419.4"/>
<path d="M727.6,420.6 C728,419.8 729.7,419.3 730.7,419.4 C731.8,419.6 733.4,420.6 733.9,421.4 C734.4,422.2 734.3,423.4 733.9,424.2 C733.4,424.9 732.1,425.7 731.1,425.7 C730.1,425.8 728.6,425.4 728,424.6 C727.4,423.7 727.1,421.5 727.6,420.6Z"/>
</g>
<!-- p132 -->
<g class="k">
<path d="M809.4,383.8 L842,376.9"/>
<path d="M860.8,383.8 L866.5,392 L871.5,393.2 L875.2,383.8"/>
<path d="M894,388.8 L899.1,393.8 L899.7,401.4 L866.5,420.2"/>
<path d="M809.4,383.8 L805,390.1 L804.4,394.5 L821.3,413.3"/>
<path d="M816.3,402 L822.6,413.3"/>
<path class="b" d="M817.6,402.6 L825.1,405.1 L836.4,404.5"/>
<path d="M842,393.2 L837.6,402.6"/>
<path d="M843.9,400.1 L840.1,405.1"/>
<path d="M860.2,395.7 L871.5,393.8"/>
<ellipse class="f" cx="832.6" cy="383.4" rx="1.1" ry="1.1"/>
<path d="M825.1,410.8 C824.6,411.7 822.5,414.4 822,416.4 C821.4,418.4 821.2,420.9 822,422.7 C822.7,424.4 823.9,426.3 826.3,427.1 C828.7,427.8 834.7,427.1 836.4,427.1"/>
<path d="M836.4,427.1 L853.9,425.2 L864,423.3 L866.5,420.2"/>
<path d="M823.8,425.2 C825.5,425.6 828.8,427.7 833.9,427.9 C838.9,428.1 850.6,426.7 853.9,426.4"/>
<path d="M865.2,421.7 L899.1,402.9"/>
<path d="M831.4,432.1 L838.9,441.5 L851.4,438.3 L853.9,435.2 L857.1,427.1"/>
<path d="M865.2,423.9 L871.5,432.7 L885.3,430.2 L892.8,408.9"/>
<path class="b" d="M847,405.1 L845.8,415.1"/>
<path class="b" d="M845.8,407 L850.2,415.1"/>
<path d="M850.2,415.1 L856.4,413.9 L848.9,416.4"/>
<path d="M862.7,402.6 C863.3,403 865.7,404.2 866.5,405.1 C867.2,406.1 867,407.7 867.1,408.3"/>
<ellipse class="w" cx="818.8" cy="388.2" rx="9" ry="6.9" transform="rotate(10 818.8 388.2)"/>
<ellipse cx="819.1" cy="388.6" rx="6" ry="4.5" transform="rotate(10 819.1 388.6)"/>
<ellipse class="w" cx="851.4" cy="380.7" rx="9.4" ry="6.9" transform="rotate(5 851.4 380.7)"/>
<ellipse cx="851.7" cy="381" rx="6.3" ry="4.5" transform="rotate(5 851.7 381)"/>
<ellipse class="w" cx="884.6" cy="385.1" rx="9" ry="6.5" transform="rotate(8 884.6 385.1)"/>
<ellipse cx="884.6" cy="385.1" rx="6" ry="4.3" transform="rotate(8 884.6 385.1)"/>
<ellipse class="w" cx="852" cy="393.8" rx="8.1" ry="6" transform="rotate(5 852 393.8)"/>
<ellipse cx="852.4" cy="394.1" rx="5.3" ry="3.8" transform="rotate(5 852.4 394.1)"/>
<ellipse class="w" cx="856.4" cy="405.1" rx="9.4" ry="4.4" transform="rotate(5 856.4 405.1)"/>
<ellipse cx="856.7" cy="405.4" rx="6.3" ry="2.5" transform="rotate(5 856.7 405.4)"/>
<ellipse class="w" cx="835.1" cy="409.5" rx="9" ry="4" transform="rotate(5 835.1 409.5)"/>
<ellipse cx="835.4" cy="409.8" rx="6" ry="2.3" transform="rotate(5 835.4 409.8)"/>
</g>
<!-- p143 -->
<g class="k">
<path d="M764.9,552.4 C765,552.8 765.5,554 765.7,554.9 C765.8,555.7 765.8,556.6 765.7,557.4 C765.6,558.3 765.4,559.1 765,559.9 C764.7,560.7 764.2,561.4 763.7,562.1 C763.1,562.8 762.5,563.4 761.7,563.9 C761,564.4 760.2,564.8 759.3,565.1 C758.5,565.4 757.6,565.5 756.7,565.6 C755.8,565.7 754.9,565.6 754,565.4 C753.1,565.3 752.2,565 751.4,564.6 C750.7,564.2 749.9,563.7 749.2,563.1 C748.6,562.5 748,561.9 747.5,561.1 C747.1,560.4 746.7,559.6 746.5,558.8 C746.2,558 746.1,557.1 746.1,556.3 C746.1,555.4 746.3,554.5 746.5,553.7 C746.8,552.9 747.2,552.1 747.6,551.4 C748.1,550.7 749.1,549.8 749.4,549.5"/>
<ellipse class="w" cx="759.5" cy="548.9" rx="7.2" ry="7.1"/>
<path d="M752.4,546.9 L751.2,555.2 L757.1,561.1 L764.6,556 L766.6,550.6"/>
<path d="M753.6,552.8 L758.3,555.6 L764.6,552.8"/>
<path d="M758.3,555.6 L757.5,561.1"/>
<path d="M748.5,563.4 L742.6,575.6"/>
<path d="M755.3,565.8 L748.9,579.2"/>
<path d="M747.7,565.8 C748,566.2 748.6,568.1 749.7,568.5 C750.7,569 753.3,568.4 754,568.4"/>
<path d="M746.1,568.9 C746.5,569.4 747,571.3 748.1,571.7 C749.2,572.1 751.8,571.6 752.5,571.5"/>
<path d="M744.6,572.1 C744.9,572.6 745.4,574.6 746.5,575 C747.6,575.4 750.3,574.7 751.1,574.7"/>
<path d="M742.6,575.6 C742.9,574.8 744.3,574 745.3,574 C746.4,574 748.1,574.9 748.7,575.6 C749.3,576.3 749.4,577.7 749,578.4 C748.7,579.1 747.5,579.9 746.5,579.9 C745.6,580 744,579.6 743.4,578.9 C742.7,578.2 742.3,576.4 742.6,575.6Z"/>
</g>
<!-- p137 -->
<g class="k">
<path d="M743.2,600.7 L762.6,595.7"/>
<path d="M748.8,602.6 L763.3,595.1 L773.9,595.1 L777.7,591.9"/>
<path d="M748.8,602.6 L765.1,610.7 L775.2,594.4"/>
<path d="M752.6,601.3 L764.5,607.6"/>
<path d="M748.8,603.2 L770.2,633.9 L770.8,637.7"/>
<path d="M777.7,592.6 L770.2,635.2"/>
<path d="M739.4,610.7 L752.6,631.4 L752.6,635.2"/>
<path d="M740.7,613.3 L751.4,629.6"/>
<path d="M780.2,606.4 L776.4,638.3 L768.9,643.3"/>
<path d="M776.4,630.2 L782.7,632.7"/>
<path d="M784.6,610.1 L782.1,633.9 L787.1,635.8"/>
<path d="M789,612 L787.7,628.9"/>
<path class="w" d="M779.6,590.7 L794,585 L809.7,593.8 L809,597.6 L796.5,601.3 L785.2,600.1 L779.6,595.1Z"/>
<ellipse cx="795.9" cy="596.1" rx="5.6" ry="3.1"/>
<path d="M779.6,595.1 L780.2,606.4 L785.2,610.1 L796.5,612 L808.4,607.6 L809.7,593.8"/>
<path d="M790.2,600.7 L790.2,610.7"/>
<path d="M805.3,598.8 L805.3,608.2"/>
<path class="w" d="M725,605.7 C725.3,606.9 725.4,611 726.9,612.6 C728.4,614.3 731.6,615.7 733.8,615.8 C736,615.9 738.4,614.9 740.1,613.3 C741.7,611.6 743,607 743.6,605.7"/>
<ellipse class="w" cx="734.4" cy="603.6" rx="9" ry="7.5"/>
<ellipse cx="734.8" cy="603.8" rx="4.5" ry="3.8"/>
<ellipse class="w" cx="770.8" cy="590.7" rx="8.5" ry="7.3"/>
<ellipse cx="771.2" cy="591.1" rx="4" ry="3.5"/>
<path d="M762.6,595.7 L768.9,593.2 L773.9,595.1"/>
<path class="w" d="M750.5,642.1 C750.7,643.2 750.6,647.2 752,649 C753.4,650.8 756.5,652.5 758.9,652.7 C761.3,653 764.7,651.8 766.4,650.2 C768.1,648.7 768.5,644.5 768.9,643.3"/>
<ellipse class="w" cx="759.5" cy="640.2" rx="9" ry="7.8"/>
<ellipse cx="759.9" cy="640" rx="4.4" ry="3.8"/>
<path class="w" d="M788.3,630.2 C788.7,631.4 788.9,635.9 790.2,637.7 C791.6,639.5 794.2,640.8 796.5,640.8 C798.8,640.8 802.4,639.5 804,637.7 C805.6,635.9 805.6,631.4 805.9,630.2"/>
<ellipse class="w" cx="797.1" cy="628.3" rx="8.8" ry="7.8"/>
<ellipse cx="797.1" cy="628.3" rx="4.4" ry="4"/>
</g>
<!-- p133 -->
<g class="k">
<path d="M865.1,547 C866.2,545.4 869.1,539.9 871.4,537.6 C873.7,535.3 876.2,534.1 878.9,533.2 C881.7,532.2 885,531.5 887.7,531.9 C890.4,532.3 893.4,533.9 895.2,535.7 C897.1,537.4 898.4,540 899,542.6 C899.6,545.2 899.6,549 899,551.3 C898.4,553.6 895.9,555.5 895.2,556.4"/>
<path class="b" d="M873.9,535.3 C875.4,535.1 880.2,533.6 882.7,534.4 C885.2,535.2 887.7,538.1 889,540.1 C890.2,542 890.6,544 890.2,546.3 C889.8,548.6 887.1,552.6 886.5,553.8"/>
<path d="M865.1,547 C866,546.7 867.7,546.1 870.2,545.7 C872.7,545.3 877.5,544.3 880.2,544.4 C882.9,544.6 885.4,546 886.5,546.3"/>
<path d="M855.7,557.6 C856.1,556.6 856.5,552.9 857.6,551.3 C858.8,549.8 861,548.4 862.6,548.2 C864.3,548 866.6,548.9 867.7,550.1 C868.7,551.2 868.7,554.3 868.9,555.1"/>
<path d="M899,541.3 C900.3,541 904,539.1 906.5,539.4 C909,539.7 912.3,541.4 914,543.2 C915.8,545 916.8,547.3 917.2,550.1 C917.6,552.9 916.7,558.4 916.5,560.1"/>
<path d="M916.5,560.1 L897.7,578.9"/>
<path d="M898.4,557.6 L899,567.6 L916.5,553.8"/>
<path d="M852.6,565.8 C852.8,564.5 850.9,562.8 855.1,561.1 C859.3,559.5 871.8,557 877.7,556 C883.5,555 887.1,554.8 890.2,555.1 C893.4,555.4 895.1,556.6 896.5,557.6 C897.8,558.7 898.6,560.1 898.4,561.4 C898.2,562.6 898.7,563.9 895.2,565.1 C891.8,566.4 883.1,568 877.7,568.9 C872.3,569.8 866.6,570.4 862.6,570.4 C858.7,570.4 855.8,569.4 854.1,568.6 C852.4,567.9 852.4,567 852.6,565.8Z"/>
<ellipse cx="863.9" cy="564.1" rx="6" ry="2.8" transform="rotate(-5 863.9 564.1)"/>
<ellipse cx="885.2" cy="559.1" rx="6.3" ry="3" transform="rotate(-5 885.2 559.1)"/>
<path d="M852.6,565.8 C852.3,569 850.5,581.3 850.7,585.2 C850.9,589.1 851.5,587.9 853.9,589 C856.3,590 861.2,591.4 865.1,591.5 C869.1,591.6 873.1,590.6 877.7,589.6 C882.3,588.5 889.4,586.6 892.7,585.2 C896.1,583.8 896.9,582.1 897.7,581.4"/>
<path d="M897.7,581.4 L897.7,562"/>
<path d="M855.1,558.9 L837.6,563.3"/>
<path d="M837.6,563.3 C836.9,563.8 834.9,564.6 833.8,566.4 C832.8,568.2 831.6,571.6 831.3,573.9 C831,576.2 831.8,579.1 831.9,580.2"/>
<path d="M831.9,580.2 L857.6,613.4"/>
<path class="b" d="M833.8,568.9 L844.5,585.2"/>
<path d="M844.5,585.2 L852,570.1"/>
<path d="M836.9,567.6 C837.5,567.1 838.5,564.8 840.1,564.5 C841.6,564.2 844.8,564.8 846.3,565.8 C847.9,566.7 849.3,568.9 849.5,570.1 C849.7,571.4 848.8,572.8 847.6,573.3 C846.3,573.8 842.9,573.3 842,573.3"/>
<path d="M833.8,578.9 L858.9,607.8"/>
<path d="M848.2,592.7 L851.4,580.2"/>
<path d="M848.2,592.7 L858.9,591.5"/>
<path d="M848.2,592.7 L859.5,606.5"/>
<path d="M859.5,606.4 C859.6,604.9 860.7,601.7 862,600.1 C863.4,598.5 861.3,598.6 867.7,597 C874,595.3 893.6,591 900.3,590.1 C906.9,589.1 905.3,590 907.8,591.3 C910.3,592.7 913.9,596.6 915.3,598.2 C916.7,599.9 916.1,600.2 915.9,601.4 C915.7,602.5 920.4,603.1 914,605.1 C907.7,607.1 885.4,612 877.7,613.3 C870,614.5 870.4,613.4 867.7,612.6 C864.9,611.9 862.7,609.9 861.4,608.9 C860,607.8 859.4,607.8 859.5,606.4Z"/>
<ellipse cx="870.8" cy="604.5" rx="5.6" ry="4.8"/>
<ellipse cx="904" cy="598.9" rx="5.6" ry="4.8"/>
<path d="M857.6,612.6 C857.7,613.5 857,615.9 858.3,617.7 C859.5,619.4 862.3,622.2 865.1,623.3 C868,624.5 873.5,624.3 875.2,624.6"/>
<path d="M875.2,624.6 L911.5,615.8"/>
<path d="M911.5,615.8 C912.2,614.2 914.6,608.8 915.3,606.4 C916,604 915.8,602.2 915.9,601.4"/>
<path d="M900.3,581.4 L907.8,590.8"/>
<path d="M897.7,578.9 L901.5,578.3 L900.3,581.4"/>
</g>
<!-- labels -->
<text id="l135" class="ls" text-anchor="middle" x="322.1" y="130.5">135</text>
<text id="l136" class="ls" text-anchor="middle" x="354.4" y="248.5">136</text>
<text id="l174" class="ls" text-anchor="middle" x="423.4" y="85.9">174</text>
<text id="l255a" class="ls" text-anchor="middle" x="430.0" y="165.3">255</text>
<text id="l250" class="ls" text-anchor="middle" x="757.8" y="156.1">250</text>
<text id="l255b" class="ls" text-anchor="middle" x="755.8" y="299.9">255</text>
<text id="l173" class="ls" text-anchor="middle" x="472.0" y="360.7">173</text>
<text id="l172" class="ls" text-anchor="middle" x="556.5" y="382.7">172</text>
<text id="l132" class="ls" text-anchor="middle" x="870.1" y="456.3">132</text>
<text id="l133" class="ls" text-anchor="middle" x="895.0" y="643.7">133</text>
<text id="l140" class="lf" text-anchor="middle" x="767.7" y="401.5">140</text>
<text id="l131" class="lf" text-anchor="middle" x="712.0" y="505.5">131</text>
<text id="l128" class="lf" text-anchor="middle" x="459.0" y="522.5">128</text>
<text id="l125" class="lf" text-anchor="middle" x="343.0" y="655.7">125</text>
<text id="l134" class="lf" text-anchor="middle" x="496.0" y="680.5">134</text>
<text id="l143" class="lf" text-anchor="middle" x="786.0" y="557.7">143</text>
<text id="l137" class="lf" text-anchor="middle" x="793.0" y="667.9">137</text>
<!-- watermark -->
<g class="wm" style="mix-blend-mode:multiply">
<text transform="translate(237,470) rotate(30.5)" x="0" y="22">truckmall.ru epc catalog</text>
<text transform="translate(465,89) rotate(30.5)" x="0" y="22">truckmall.ru epc catalog</text>
<text transform="translate(76,-134) rotate(30.5)" x="0" y="22">truckmall.ru epc catalog</text>
<text transform="translate(846,310) rotate(30.5)" x="0" y="22">truckmall.ru epc catalog</text>
<text transform="translate(-148,249) rotate(30.5)" x="0" y="22">truckmall.ru epc catalog</text>
<text transform="translate(624,697) rotate(30.5)" x="0" y="22">truckmall.ru epc catalog</text>
</g>
<!-- logo -->
<g id="logo">
<defs>
<path id="arcT" d="M 873.98,724.86 A 63.5,63.5 0 0 1 999.76,741.53"/>
</defs>
<!-- shadow swirls -->
<g transform="translate(885,675) scale(0.10742)" fill="none" stroke="#dcdcd4" stroke-linecap="round">
<ellipse cx="440" cy="500" rx="370" ry="62" stroke-width="22" transform="rotate(3 440 500)"/>
<path d="M110,548 C250,600 520,590 760,530" stroke-width="16"/>
<path d="M240,470 C420,440 640,450 880,520" stroke-width="12"/>
</g>
<!-- gear -->
<g transform="translate(885,675) scale(0.10742)" fill="#ea8199" stroke="none">
<path d="M320,205 L395,205 L410,180 L375,145 L385,130 L420,130 L470,155 L500,150 L495,125 L540,125 L600,165 L640,165 L660,185 L700,200 L745,235 L770,230 L790,245 L785,270 L830,305 L860,310 L880,330 L870,350 L890,385 L925,395 L930,415 L905,430 L905,455 L925,475 L915,495 L870,480 L830,490 L835,540 L800,550 L765,490 L760,455 C700,470 600,460 520,420 C470,400 440,380 420,365 L385,385 L345,340 L400,320 L410,295 L395,245 L330,240 Z"/>
<!-- hole -->
<ellipse cx="612" cy="318" rx="152" ry="68" transform="rotate(24 612 318)" fill="#fff"/>
<!-- white swoosh cut on right -->
<path d="M788,325 C830,370 840,420 760,462 C800,430 810,380 770,335 Z" fill="#fff"/>
<!-- outer crescent -->
<path d="M318,93 C220,110 150,150 155,215 C165,300 300,400 520,455 C620,478 720,478 775,455 C700,465 600,455 480,405 C330,345 215,260 205,190 C200,140 250,110 318,93 Z"/>
<!-- lower crescent -->
<path d="M150,315 C230,390 380,450 560,485 C620,497 670,505 705,510 C640,520 560,518 470,500 C330,470 200,420 150,370 Z"/>
</g>
<text font-family="Liberation Sans" font-size="17.5" letter-spacing="1.5"><textPath href="#arcT" startOffset="0"><tspan fill="#858585">TRUCKMALL</tspan><tspan fill="#ea7f97">PARTS</tspan></textPath></text>
</g>
<!-- frame -->
<rect x="67.5" y="30.5" width="888" height="670" fill="none" stroke="#000" stroke-width="1.1"/>
</svg>
</body></html>
